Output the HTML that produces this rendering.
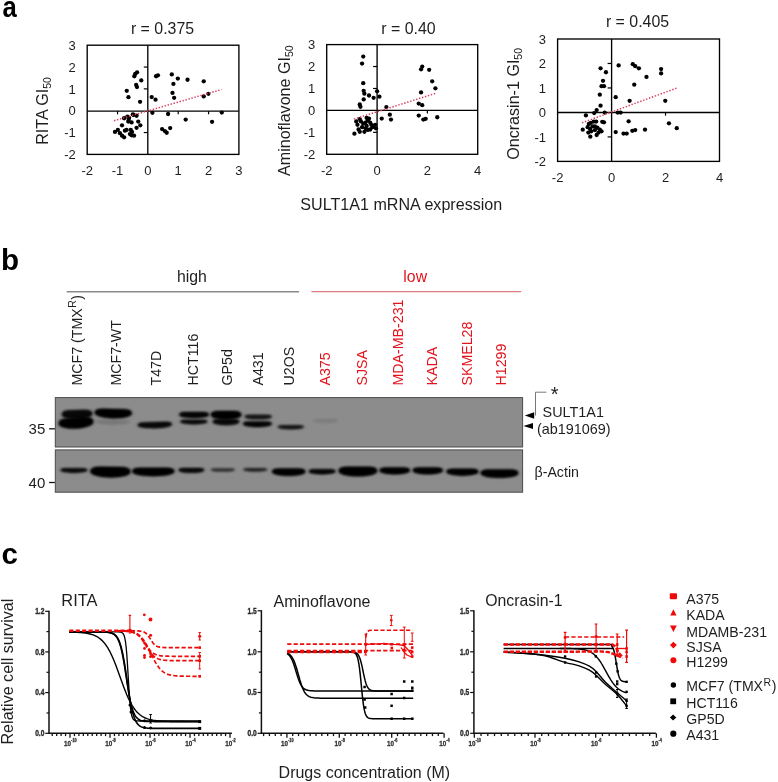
<!DOCTYPE html>
<html><head><meta charset="utf-8"><style>
html,body{margin:0;padding:0;background:#fff;overflow:hidden;}
svg{display:block;will-change:transform;}
text{font-family:"Liberation Sans", sans-serif;}
</style></head><body>
<svg width="778" height="782" viewBox="0 0 778 782">
<rect width="778" height="782" fill="#fff"/>
<defs><filter id="bl" x="-30%" y="-80%" width="160%" height="260%"><feGaussianBlur stdDeviation="1.0 0.8"/></filter><filter id="bl2" x="-30%" y="-80%" width="160%" height="260%"><feGaussianBlur stdDeviation="2.2 1.8"/></filter><filter id="soft" x="0" y="0" width="100%" height="100%" filterUnits="userSpaceOnUse"><feGaussianBlur stdDeviation="0.35"/></filter></defs>
<text transform="translate(2.6,17.0) scale(0.87,1)" font-size="29.5" font-weight="bold" fill="#000">a</text>
<rect x="87.2" y="45.2" width="151.70" height="109.20" fill="none" stroke="#000" stroke-width="1.35"/>
<line x1="147.80" y1="45.2" x2="147.80" y2="154.4" stroke="#000" stroke-width="1.35"/>
<line x1="87.2" y1="111.10" x2="238.9" y2="111.10" stroke="#000" stroke-width="1.35"/>
<line x1="143.80" y1="132.56" x2="147.80" y2="132.56" stroke="#000" stroke-width="1.2"/>
<line x1="143.80" y1="88.88" x2="147.80" y2="88.88" stroke="#000" stroke-width="1.2"/>
<line x1="143.80" y1="67.04" x2="147.80" y2="67.04" stroke="#000" stroke-width="1.2"/>
<line x1="117.54" y1="111.10" x2="117.54" y2="114.30" stroke="#000" stroke-width="1.2"/>
<line x1="178.22" y1="111.10" x2="178.22" y2="114.30" stroke="#000" stroke-width="1.2"/>
<line x1="208.56" y1="111.10" x2="208.56" y2="114.30" stroke="#000" stroke-width="1.2"/>
<text x="75.70" y="159.10" font-size="13" text-anchor="end" fill="#1e1e1e" >-2</text>
<text x="75.70" y="137.26" font-size="13" text-anchor="end" fill="#1e1e1e" >-1</text>
<text x="75.70" y="115.42" font-size="13" text-anchor="end" fill="#1e1e1e" >0</text>
<text x="75.70" y="93.58" font-size="13" text-anchor="end" fill="#1e1e1e" >1</text>
<text x="75.70" y="71.74" font-size="13" text-anchor="end" fill="#1e1e1e" >2</text>
<text x="75.70" y="49.90" font-size="13" text-anchor="end" fill="#1e1e1e" >3</text>
<text x="87.20" y="175.00" font-size="13" text-anchor="middle" fill="#1e1e1e" >-2</text>
<text x="117.54" y="175.00" font-size="13" text-anchor="middle" fill="#1e1e1e" >-1</text>
<text x="147.88" y="175.00" font-size="13" text-anchor="middle" fill="#1e1e1e" >0</text>
<text x="178.22" y="175.00" font-size="13" text-anchor="middle" fill="#1e1e1e" >1</text>
<text x="208.56" y="175.00" font-size="13" text-anchor="middle" fill="#1e1e1e" >2</text>
<text x="238.90" y="175.00" font-size="13" text-anchor="middle" fill="#1e1e1e" >3</text>
<circle cx="137.10" cy="72.34" r="2.15" fill="#000"/>
<circle cx="135.25" cy="73.96" r="2.15" fill="#000"/>
<circle cx="134.32" cy="76.27" r="2.15" fill="#000"/>
<circle cx="141.26" cy="80.44" r="2.15" fill="#000"/>
<circle cx="156.07" cy="76.27" r="2.15" fill="#000"/>
<circle cx="157.92" cy="75.35" r="2.15" fill="#000"/>
<circle cx="171.80" cy="74.42" r="2.15" fill="#000"/>
<circle cx="177.82" cy="78.59" r="2.15" fill="#000"/>
<circle cx="187.54" cy="79.75" r="2.15" fill="#000"/>
<circle cx="203.73" cy="81.37" r="2.15" fill="#000"/>
<circle cx="173.42" cy="83.91" r="2.15" fill="#000"/>
<circle cx="172.50" cy="92.93" r="2.15" fill="#000"/>
<circle cx="174.12" cy="97.79" r="2.15" fill="#000"/>
<circle cx="203.73" cy="96.40" r="2.15" fill="#000"/>
<circle cx="208.36" cy="93.86" r="2.15" fill="#000"/>
<circle cx="185.69" cy="119.54" r="2.15" fill="#000"/>
<circle cx="212.06" cy="121.86" r="2.15" fill="#000"/>
<circle cx="221.78" cy="112.60" r="2.15" fill="#000"/>
<circle cx="168.10" cy="113.99" r="2.15" fill="#000"/>
<circle cx="162.09" cy="129.03" r="2.15" fill="#000"/>
<circle cx="164.86" cy="131.11" r="2.15" fill="#000"/>
<circle cx="166.71" cy="132.73" r="2.15" fill="#000"/>
<circle cx="170.19" cy="128.10" r="2.15" fill="#000"/>
<circle cx="136.16" cy="84.99" r="2.15" fill="#000"/>
<circle cx="136.99" cy="87.07" r="2.15" fill="#000"/>
<circle cx="126.77" cy="90.81" r="2.15" fill="#000"/>
<circle cx="128.43" cy="97.21" r="2.15" fill="#000"/>
<circle cx="140.07" cy="101.86" r="2.15" fill="#000"/>
<circle cx="151.70" cy="97.04" r="2.15" fill="#000"/>
<circle cx="155.53" cy="99.70" r="2.15" fill="#000"/>
<circle cx="152.37" cy="112.83" r="2.15" fill="#000"/>
<circle cx="124.11" cy="118.24" r="2.15" fill="#000"/>
<circle cx="127.43" cy="116.58" r="2.15" fill="#000"/>
<circle cx="129.09" cy="117.82" r="2.15" fill="#000"/>
<circle cx="132.83" cy="114.50" r="2.15" fill="#000"/>
<circle cx="136.58" cy="115.74" r="2.15" fill="#000"/>
<circle cx="128.26" cy="121.56" r="2.15" fill="#000"/>
<circle cx="131.59" cy="122.39" r="2.15" fill="#000"/>
<circle cx="138.24" cy="121.56" r="2.15" fill="#000"/>
<circle cx="140.32" cy="125.30" r="2.15" fill="#000"/>
<circle cx="136.58" cy="127.80" r="2.15" fill="#000"/>
<circle cx="122.03" cy="125.30" r="2.15" fill="#000"/>
<circle cx="114.96" cy="131.95" r="2.15" fill="#000"/>
<circle cx="117.87" cy="129.88" r="2.15" fill="#000"/>
<circle cx="119.95" cy="133.20" r="2.15" fill="#000"/>
<circle cx="122.03" cy="135.69" r="2.15" fill="#000"/>
<circle cx="124.11" cy="137.36" r="2.15" fill="#000"/>
<circle cx="124.94" cy="130.71" r="2.15" fill="#000"/>
<circle cx="126.60" cy="129.88" r="2.15" fill="#000"/>
<circle cx="130.76" cy="129.88" r="2.15" fill="#000"/>
<circle cx="132.00" cy="131.95" r="2.15" fill="#000"/>
<circle cx="129.93" cy="134.03" r="2.15" fill="#000"/>
<circle cx="131.59" cy="135.28" r="2.15" fill="#000"/>
<circle cx="134.08" cy="135.69" r="2.15" fill="#000"/>
<circle cx="128.68" cy="119.90" r="2.15" fill="#000"/>
<circle cx="133.67" cy="114.91" r="2.15" fill="#000"/>
<line x1="114.00" y1="120.70" x2="221.60" y2="89.50" stroke="#d83a5a" stroke-width="1.45" stroke-dasharray="1.4 1.7"/>
<text x="162.50" y="33.80" font-size="15.9" text-anchor="middle" fill="#1e1e1e" >r = 0.375</text>
<text transform="translate(48.30,144.80) rotate(-90)" font-size="16.1" fill="#1e1e1e">RITA GI<tspan font-size="10.5" dy="3">50</tspan></text>
<rect x="326.7" y="44.6" width="151.00" height="109.70" fill="none" stroke="#000" stroke-width="1.35"/>
<line x1="377.10" y1="44.6" x2="377.10" y2="154.3" stroke="#000" stroke-width="1.35"/>
<line x1="326.7" y1="110.40" x2="477.7" y2="110.40" stroke="#000" stroke-width="1.35"/>
<line x1="373.10" y1="132.36" x2="377.10" y2="132.36" stroke="#000" stroke-width="1.2"/>
<line x1="373.10" y1="88.48" x2="377.10" y2="88.48" stroke="#000" stroke-width="1.2"/>
<line x1="373.10" y1="66.54" x2="377.10" y2="66.54" stroke="#000" stroke-width="1.2"/>
<line x1="427.37" y1="110.40" x2="427.37" y2="113.60" stroke="#000" stroke-width="1.2"/>
<text x="315.20" y="159.00" font-size="13" text-anchor="end" fill="#1e1e1e" >-2</text>
<text x="315.20" y="137.06" font-size="13" text-anchor="end" fill="#1e1e1e" >-1</text>
<text x="315.20" y="115.12" font-size="13" text-anchor="end" fill="#1e1e1e" >0</text>
<text x="315.20" y="93.18" font-size="13" text-anchor="end" fill="#1e1e1e" >1</text>
<text x="315.20" y="71.24" font-size="13" text-anchor="end" fill="#1e1e1e" >2</text>
<text x="315.20" y="49.30" font-size="13" text-anchor="end" fill="#1e1e1e" >3</text>
<text x="326.70" y="174.90" font-size="13" text-anchor="middle" fill="#1e1e1e" >-2</text>
<text x="377.03" y="174.90" font-size="13" text-anchor="middle" fill="#1e1e1e" >0</text>
<text x="427.37" y="174.90" font-size="13" text-anchor="middle" fill="#1e1e1e" >2</text>
<text x="477.70" y="174.90" font-size="13" text-anchor="middle" fill="#1e1e1e" >4</text>
<circle cx="363.22" cy="56.61" r="2.15" fill="#000"/>
<circle cx="362.06" cy="63.55" r="2.15" fill="#000"/>
<circle cx="363.22" cy="83.22" r="2.15" fill="#000"/>
<circle cx="363.68" cy="90.85" r="2.15" fill="#000"/>
<circle cx="364.37" cy="93.63" r="2.15" fill="#000"/>
<circle cx="363.68" cy="99.41" r="2.15" fill="#000"/>
<circle cx="369.00" cy="95.48" r="2.15" fill="#000"/>
<circle cx="373.63" cy="97.79" r="2.15" fill="#000"/>
<circle cx="377.10" cy="91.31" r="2.15" fill="#000"/>
<circle cx="379.41" cy="96.64" r="2.15" fill="#000"/>
<circle cx="359.75" cy="104.50" r="2.15" fill="#000"/>
<circle cx="360.44" cy="106.82" r="2.15" fill="#000"/>
<circle cx="422.22" cy="66.56" r="2.15" fill="#000"/>
<circle cx="421.06" cy="69.33" r="2.15" fill="#000"/>
<circle cx="429.16" cy="69.80" r="2.15" fill="#000"/>
<circle cx="432.17" cy="81.37" r="2.15" fill="#000"/>
<circle cx="435.40" cy="88.31" r="2.15" fill="#000"/>
<circle cx="421.06" cy="92.47" r="2.15" fill="#000"/>
<circle cx="418.75" cy="103.58" r="2.15" fill="#000"/>
<circle cx="422.22" cy="105.20" r="2.15" fill="#000"/>
<circle cx="386.35" cy="107.05" r="2.15" fill="#000"/>
<circle cx="381.73" cy="118.62" r="2.15" fill="#000"/>
<circle cx="389.82" cy="114.68" r="2.15" fill="#000"/>
<circle cx="390.98" cy="119.54" r="2.15" fill="#000"/>
<circle cx="418.75" cy="115.61" r="2.15" fill="#000"/>
<circle cx="423.37" cy="119.54" r="2.15" fill="#000"/>
<circle cx="425.69" cy="118.85" r="2.15" fill="#000"/>
<circle cx="437.26" cy="117.23" r="2.15" fill="#000"/>
<circle cx="354.42" cy="133.66" r="2.15" fill="#000"/>
<circle cx="356.27" cy="121.39" r="2.15" fill="#000"/>
<circle cx="357.43" cy="124.86" r="2.15" fill="#000"/>
<circle cx="359.75" cy="119.08" r="2.15" fill="#000"/>
<circle cx="360.90" cy="121.39" r="2.15" fill="#000"/>
<circle cx="358.59" cy="129.49" r="2.15" fill="#000"/>
<circle cx="359.75" cy="131.80" r="2.15" fill="#000"/>
<circle cx="362.06" cy="127.18" r="2.15" fill="#000"/>
<circle cx="363.22" cy="123.71" r="2.15" fill="#000"/>
<circle cx="365.53" cy="122.55" r="2.15" fill="#000"/>
<circle cx="366.69" cy="117.92" r="2.15" fill="#000"/>
<circle cx="367.84" cy="120.24" r="2.15" fill="#000"/>
<circle cx="369.00" cy="118.62" r="2.15" fill="#000"/>
<circle cx="370.16" cy="122.55" r="2.15" fill="#000"/>
<circle cx="371.31" cy="124.86" r="2.15" fill="#000"/>
<circle cx="372.47" cy="127.18" r="2.15" fill="#000"/>
<circle cx="373.63" cy="126.02" r="2.15" fill="#000"/>
<circle cx="365.53" cy="128.33" r="2.15" fill="#000"/>
<circle cx="364.37" cy="131.80" r="2.15" fill="#000"/>
<circle cx="367.84" cy="129.95" r="2.15" fill="#000"/>
<circle cx="370.16" cy="129.49" r="2.15" fill="#000"/>
<circle cx="366.69" cy="126.02" r="2.15" fill="#000"/>
<circle cx="375.94" cy="128.33" r="2.15" fill="#000"/>
<circle cx="375.25" cy="124.86" r="2.15" fill="#000"/>
<line x1="353.96" y1="119.08" x2="436.10" y2="93.17" stroke="#d83a5a" stroke-width="1.45" stroke-dasharray="1.4 1.7"/>
<text x="408.50" y="34.40" font-size="15.9" text-anchor="middle" fill="#1e1e1e" >r = 0.40</text>
<text transform="translate(289.80,176.00) rotate(-90)" font-size="16.1" fill="#1e1e1e">Aminoflavone GI<tspan font-size="10.5" dy="3">50</tspan></text>
<rect x="557.6" y="39" width="161.90" height="122.40" fill="none" stroke="#000" stroke-width="1.35"/>
<line x1="611.60" y1="39" x2="611.60" y2="161.4" stroke="#000" stroke-width="1.35"/>
<line x1="557.6" y1="112.50" x2="719.5" y2="112.50" stroke="#000" stroke-width="1.35"/>
<line x1="607.60" y1="136.92" x2="611.60" y2="136.92" stroke="#000" stroke-width="1.2"/>
<line x1="607.60" y1="87.96" x2="611.60" y2="87.96" stroke="#000" stroke-width="1.2"/>
<line x1="607.60" y1="63.48" x2="611.60" y2="63.48" stroke="#000" stroke-width="1.2"/>
<line x1="665.53" y1="112.50" x2="665.53" y2="115.70" stroke="#000" stroke-width="1.2"/>
<text x="546.10" y="166.10" font-size="13" text-anchor="end" fill="#1e1e1e" >-2</text>
<text x="546.10" y="141.62" font-size="13" text-anchor="end" fill="#1e1e1e" >-1</text>
<text x="546.10" y="117.14" font-size="13" text-anchor="end" fill="#1e1e1e" >0</text>
<text x="546.10" y="92.66" font-size="13" text-anchor="end" fill="#1e1e1e" >1</text>
<text x="546.10" y="68.18" font-size="13" text-anchor="end" fill="#1e1e1e" >2</text>
<text x="546.10" y="43.70" font-size="13" text-anchor="end" fill="#1e1e1e" >3</text>
<text x="557.60" y="182.00" font-size="13" text-anchor="middle" fill="#1e1e1e" >-2</text>
<text x="611.57" y="182.00" font-size="13" text-anchor="middle" fill="#1e1e1e" >0</text>
<text x="665.53" y="182.00" font-size="13" text-anchor="middle" fill="#1e1e1e" >2</text>
<text x="719.50" y="182.00" font-size="13" text-anchor="middle" fill="#1e1e1e" >4</text>
<circle cx="600.56" cy="68.34" r="2.15" fill="#000"/>
<circle cx="605.93" cy="72.25" r="2.15" fill="#000"/>
<circle cx="603.00" cy="80.79" r="2.15" fill="#000"/>
<circle cx="601.54" cy="86.17" r="2.15" fill="#000"/>
<circle cx="603.98" cy="86.17" r="2.15" fill="#000"/>
<circle cx="599.83" cy="94.71" r="2.15" fill="#000"/>
<circle cx="600.56" cy="105.70" r="2.15" fill="#000"/>
<circle cx="596.65" cy="110.10" r="2.15" fill="#000"/>
<circle cx="594.21" cy="113.03" r="2.15" fill="#000"/>
<circle cx="604.71" cy="112.54" r="2.15" fill="#000"/>
<circle cx="618.63" cy="65.41" r="2.15" fill="#000"/>
<circle cx="632.80" cy="64.19" r="2.15" fill="#000"/>
<circle cx="635.24" cy="66.14" r="2.15" fill="#000"/>
<circle cx="638.90" cy="68.34" r="2.15" fill="#000"/>
<circle cx="661.12" cy="69.07" r="2.15" fill="#000"/>
<circle cx="661.12" cy="73.47" r="2.15" fill="#000"/>
<circle cx="646.47" cy="76.89" r="2.15" fill="#000"/>
<circle cx="634.26" cy="84.70" r="2.15" fill="#000"/>
<circle cx="615.70" cy="97.16" r="2.15" fill="#000"/>
<circle cx="629.62" cy="100.82" r="2.15" fill="#000"/>
<circle cx="665.27" cy="100.82" r="2.15" fill="#000"/>
<circle cx="617.66" cy="112.54" r="2.15" fill="#000"/>
<circle cx="620.59" cy="112.54" r="2.15" fill="#000"/>
<circle cx="628.64" cy="121.33" r="2.15" fill="#000"/>
<circle cx="615.70" cy="132.08" r="2.15" fill="#000"/>
<circle cx="623.52" cy="133.54" r="2.15" fill="#000"/>
<circle cx="626.69" cy="133.54" r="2.15" fill="#000"/>
<circle cx="632.31" cy="130.85" r="2.15" fill="#000"/>
<circle cx="635.24" cy="130.12" r="2.15" fill="#000"/>
<circle cx="645.01" cy="129.63" r="2.15" fill="#000"/>
<circle cx="668.94" cy="123.28" r="2.15" fill="#000"/>
<circle cx="676.75" cy="128.17" r="2.15" fill="#000"/>
<circle cx="585.91" cy="115.47" r="2.15" fill="#000"/>
<circle cx="582.74" cy="129.63" r="2.15" fill="#000"/>
<circle cx="588.84" cy="124.02" r="2.15" fill="#000"/>
<circle cx="590.79" cy="122.80" r="2.15" fill="#000"/>
<circle cx="593.72" cy="121.58" r="2.15" fill="#000"/>
<circle cx="596.17" cy="121.58" r="2.15" fill="#000"/>
<circle cx="603.98" cy="122.31" r="2.15" fill="#000"/>
<circle cx="602.27" cy="121.82" r="2.15" fill="#000"/>
<circle cx="587.62" cy="127.19" r="2.15" fill="#000"/>
<circle cx="590.06" cy="128.90" r="2.15" fill="#000"/>
<circle cx="592.50" cy="126.46" r="2.15" fill="#000"/>
<circle cx="594.95" cy="126.46" r="2.15" fill="#000"/>
<circle cx="597.39" cy="127.68" r="2.15" fill="#000"/>
<circle cx="599.83" cy="129.63" r="2.15" fill="#000"/>
<circle cx="601.54" cy="131.34" r="2.15" fill="#000"/>
<circle cx="590.31" cy="136.72" r="2.15" fill="#000"/>
<circle cx="596.65" cy="135.01" r="2.15" fill="#000"/>
<circle cx="598.61" cy="132.56" r="2.15" fill="#000"/>
<circle cx="594.95" cy="130.12" r="2.15" fill="#000"/>
<circle cx="591.28" cy="131.34" r="2.15" fill="#000"/>
<circle cx="588.35" cy="132.56" r="2.15" fill="#000"/>
<line x1="582.00" y1="122.80" x2="677.97" y2="87.63" stroke="#d83a5a" stroke-width="1.45" stroke-dasharray="1.4 1.7"/>
<text x="637.50" y="27.10" font-size="15.9" text-anchor="middle" fill="#1e1e1e" >r = 0.405</text>
<text transform="translate(519.00,159.80) rotate(-90)" font-size="16.1" fill="#1e1e1e">Oncrasin-1 GI<tspan font-size="10.5" dy="3">50</tspan></text>
<text x="401.30" y="210.30" font-size="16.1" text-anchor="middle" fill="#1e1e1e" >SULT1A1 mRNA expression</text>
<text x="1.00" y="269.80" font-size="29.5" text-anchor="start" fill="#000" font-weight="bold">b</text>
<line x1="66.7" y1="291.8" x2="299.1" y2="291.8" stroke="#8a8a8a" stroke-width="1.4"/>
<line x1="311.4" y1="291.6" x2="521.2" y2="291.6" stroke="#dc7a7e" stroke-width="1.4"/>
<text x="191.90" y="281.80" font-size="15.8" text-anchor="middle" fill="#1e1e1e" >high</text>
<text x="415.20" y="281.90" font-size="15.8" text-anchor="middle" fill="#e3141e" >low</text>
<text transform="translate(81.70,385.5) rotate(-90)" font-size="14.2" fill="#1e1e1e">MCF7 (TMX<tspan font-size="10.5" dx="0.5" dy="-5.5">R</tspan><tspan dx="0.5" dy="5.5">)</tspan></text>
<text transform="translate(120.50,385.5) rotate(-90)" font-size="14.2" fill="#1e1e1e">MCF7-WT</text>
<text transform="translate(160.90,385.5) rotate(-90)" font-size="14.2" fill="#1e1e1e">T47D</text>
<text transform="translate(197.50,385.5) rotate(-90)" font-size="14.2" fill="#1e1e1e">HCT116</text>
<text transform="translate(232.20,385.5) rotate(-90)" font-size="14.2" fill="#1e1e1e">GP5d</text>
<text transform="translate(262.70,385.5) rotate(-90)" font-size="14.2" fill="#1e1e1e">A431</text>
<text transform="translate(294.20,385.5) rotate(-90)" font-size="14.2" fill="#1e1e1e">U2OS</text>
<text transform="translate(329.70,385.5) rotate(-90)" font-size="14.2" fill="#e3141e">A375</text>
<text transform="translate(367.20,385.5) rotate(-90)" font-size="14.2" fill="#e3141e">SJSA</text>
<text transform="translate(402.90,385.5) rotate(-90)" font-size="14.2" fill="#e3141e">MDA-MB-231</text>
<text transform="translate(436.90,385.5) rotate(-90)" font-size="14.2" fill="#e3141e">KADA</text>
<text transform="translate(472.20,385.5) rotate(-90)" font-size="14.2" fill="#e3141e">SKMEL28</text>
<text transform="translate(505.70,385.5) rotate(-90)" font-size="14.2" fill="#e3141e">H1299</text>
<rect x="55.3" y="397.6" width="467.3" height="49.4" fill="#8c8c8c" stroke="#4a4a4a" stroke-width="1"/>
<rect x="55.3" y="449.9" width="467.3" height="42.3" fill="#8c8c8c" stroke="#4a4a4a" stroke-width="1"/>
<path d="M61.80,414.46 Q61.80,410.46 69.79,410.30 L84.41,409.66 Q92.40,409.66 92.40,413.66 C92.40,420.17 61.80,420.97 61.80,414.46 Z" fill="#050505" opacity="0.405" filter="url(#bl2)"/>
<path d="M61.80,414.46 Q61.80,410.46 69.79,410.30 L84.41,409.66 Q92.40,409.66 92.40,413.66 C92.40,420.17 61.80,420.97 61.80,414.46 Z" fill="#050505" opacity="0.9" filter="url(#bl)"/>
<path d="M58.70,423.47 Q58.70,418.66 68.31,418.30 L83.79,416.86 Q93.40,416.86 93.40,421.67 C93.40,429.50 58.70,431.30 58.70,423.47 Z" fill="#050505" opacity="0.450" filter="url(#bl2)"/>
<path d="M58.70,423.47 Q58.70,418.66 68.31,418.30 L83.79,416.86 Q93.40,416.86 93.40,421.67 C93.40,429.50 58.70,431.30 58.70,423.47 Z" fill="#050505" opacity="1.0" filter="url(#bl)"/>
<path d="M94.70,412.69 Q94.70,408.56 102.96,408.72 L123.54,409.36 Q131.80,409.36 131.80,413.49 C131.80,420.22 94.70,419.42 94.70,412.69 Z" fill="#050505" opacity="0.450" filter="url(#bl2)"/>
<path d="M94.70,412.69 Q94.70,408.56 102.96,408.72 L123.54,409.36 Q131.80,409.36 131.80,413.49 C131.80,420.22 94.70,419.42 94.70,412.69 Z" fill="#050505" opacity="1.0" filter="url(#bl)"/>
<path d="M96.10,422.12 Q96.10,420.06 100.22,420.06 L125.78,420.06 Q129.90,420.06 129.90,422.12 C129.90,425.48 96.10,425.48 96.10,422.12 Z" fill="#050505" opacity="0.045" filter="url(#bl2)"/>
<path d="M96.10,422.12 Q96.10,420.06 100.22,420.06 L125.78,420.06 Q129.90,420.06 129.90,422.12 C129.90,425.48 96.10,425.48 96.10,422.12 Z" fill="#050505" opacity="0.1" filter="url(#bl)"/>
<path d="M137.70,425.25 Q137.70,422.56 143.08,422.40 L166.52,421.76 Q171.90,421.76 171.90,424.45 C171.90,428.84 137.70,429.64 137.70,425.25 Z" fill="#050505" opacity="0.405" filter="url(#bl2)"/>
<path d="M137.70,425.25 Q137.70,422.56 143.08,422.40 L166.52,421.76 Q171.90,421.76 171.90,424.45 C171.90,428.84 137.70,429.64 137.70,425.25 Z" fill="#050505" opacity="0.9" filter="url(#bl)"/>
<path d="M179.30,414.65 Q179.30,411.96 184.68,411.96 L203.52,411.96 Q208.90,411.96 208.90,414.65 C208.90,419.04 179.30,419.04 179.30,414.65 Z" fill="#050505" opacity="0.427" filter="url(#bl2)"/>
<path d="M179.30,414.65 Q179.30,411.96 184.68,411.96 L203.52,411.96 Q208.90,411.96 208.90,414.65 C208.90,419.04 179.30,419.04 179.30,414.65 Z" fill="#050505" opacity="0.95" filter="url(#bl)"/>
<path d="M180.30,421.68 Q180.30,419.66 184.33,419.66 L203.37,419.66 Q207.40,419.66 207.40,421.68 C207.40,424.96 180.30,424.96 180.30,421.68 Z" fill="#050505" opacity="0.405" filter="url(#bl2)"/>
<path d="M180.30,421.68 Q180.30,419.66 184.33,419.66 L203.37,419.66 Q207.40,419.66 207.40,421.68 C207.40,424.96 180.30,424.96 180.30,421.68 Z" fill="#050505" opacity="0.9" filter="url(#bl)"/>
<path d="M210.80,414.82 Q210.80,410.96 218.52,410.96 L233.68,410.96 Q241.40,410.96 241.40,414.82 C241.40,421.11 210.80,421.11 210.80,414.82 Z" fill="#050505" opacity="0.450" filter="url(#bl2)"/>
<path d="M210.80,414.82 Q210.80,410.96 218.52,410.96 L233.68,410.96 Q241.40,410.96 241.40,414.82 C241.40,421.11 210.80,421.11 210.80,414.82 Z" fill="#050505" opacity="1.0" filter="url(#bl)"/>
<path d="M212.80,421.80 Q212.80,419.06 218.27,419.06 L233.83,419.06 Q239.30,419.06 239.30,421.80 C239.30,426.25 212.80,426.25 212.80,421.80 Z" fill="#050505" opacity="0.405" filter="url(#bl2)"/>
<path d="M212.80,421.80 Q212.80,419.06 218.27,419.06 L233.83,419.06 Q239.30,419.06 239.30,421.80 C239.30,426.25 212.80,426.25 212.80,421.80 Z" fill="#050505" opacity="0.9" filter="url(#bl)"/>
<path d="M244.70,416.88 Q244.70,414.86 248.73,414.86 L267.67,414.86 Q271.70,414.86 271.70,416.88 C271.70,420.16 244.70,420.16 244.70,416.88 Z" fill="#050505" opacity="0.351" filter="url(#bl2)"/>
<path d="M244.70,416.88 Q244.70,414.86 248.73,414.86 L267.67,414.86 Q271.70,414.86 271.70,416.88 C271.70,420.16 244.70,420.16 244.70,416.88 Z" fill="#050505" opacity="0.78" filter="url(#bl)"/>
<path d="M243.10,423.93 Q243.10,421.46 248.03,421.46 L266.77,421.46 Q271.70,421.46 271.70,423.93 C271.70,427.94 243.10,427.94 243.10,423.93 Z" fill="#050505" opacity="0.427" filter="url(#bl2)"/>
<path d="M243.10,423.93 Q243.10,421.46 248.03,421.46 L266.77,421.46 Q271.70,421.46 271.70,423.93 C271.70,427.94 243.10,427.94 243.10,423.93 Z" fill="#050505" opacity="0.95" filter="url(#bl)"/>
<path d="M277.80,427.10 Q277.80,425.26 281.47,425.26 L300.13,425.26 Q303.80,425.26 303.80,427.10 C303.80,430.09 277.80,430.09 277.80,427.10 Z" fill="#050505" opacity="0.360" filter="url(#bl2)"/>
<path d="M277.80,427.10 Q277.80,425.26 281.47,425.26 L300.13,425.26 Q303.80,425.26 303.80,427.10 C303.80,430.09 277.80,430.09 277.80,427.10 Z" fill="#050505" opacity="0.8" filter="url(#bl)"/>
<path d="M313.30,420.68 Q313.30,418.66 317.33,418.66 L333.77,418.66 Q337.80,418.66 337.80,420.68 C337.80,423.96 313.30,423.96 313.30,420.68 Z" fill="#050505" opacity="0.032" filter="url(#bl2)"/>
<path d="M313.30,420.68 Q313.30,418.66 317.33,418.66 L333.77,418.66 Q337.80,418.66 337.80,420.68 C337.80,423.96 313.30,423.96 313.30,420.68 Z" fill="#050505" opacity="0.07" filter="url(#bl)"/>
<path d="M60.50,470.28 Q60.50,468.26 64.53,468.26 L83.27,468.26 Q87.30,468.26 87.30,470.28 C87.30,473.56 60.50,473.56 60.50,470.28 Z" fill="#050505" opacity="0.405" filter="url(#bl2)"/>
<path d="M60.50,470.28 Q60.50,468.26 64.53,468.26 L83.27,468.26 Q87.30,468.26 87.30,470.28 C87.30,473.56 60.50,473.56 60.50,470.28 Z" fill="#050505" opacity="0.9" filter="url(#bl)"/>
<path d="M90.30,471.37 Q90.30,466.56 99.91,466.66 L120.89,467.06 Q130.50,467.06 130.50,471.87 C130.50,479.70 90.30,479.20 90.30,471.37 Z" fill="#050505" opacity="0.450" filter="url(#bl2)"/>
<path d="M90.30,471.37 Q90.30,466.56 99.91,466.66 L120.89,467.06 Q130.50,467.06 130.50,471.87 C130.50,479.70 90.30,479.20 90.30,471.37 Z" fill="#050505" opacity="1.0" filter="url(#bl)"/>
<path d="M132.20,471.53 Q132.20,467.76 139.74,467.76 L166.86,467.76 Q174.40,467.76 174.40,471.53 C174.40,477.68 132.20,477.68 132.20,471.53 Z" fill="#050505" opacity="0.450" filter="url(#bl2)"/>
<path d="M132.20,471.53 Q132.20,467.76 139.74,467.76 L166.86,467.76 Q174.40,467.76 174.40,471.53 C174.40,477.68 132.20,477.68 132.20,471.53 Z" fill="#050505" opacity="1.0" filter="url(#bl)"/>
<path d="M178.60,470.17 Q178.60,468.06 182.81,468.06 L199.89,468.06 Q204.10,468.06 204.10,470.17 C204.10,473.60 178.60,473.60 178.60,470.17 Z" fill="#050505" opacity="0.405" filter="url(#bl2)"/>
<path d="M178.60,470.17 Q178.60,468.06 182.81,468.06 L199.89,468.06 Q204.10,468.06 204.10,470.17 C204.10,473.60 178.60,473.60 178.60,470.17 Z" fill="#050505" opacity="0.9" filter="url(#bl)"/>
<path d="M211.00,469.90 Q211.00,468.56 213.68,468.56 L232.02,468.56 Q234.70,468.56 234.70,469.90 C234.70,472.09 211.00,472.09 211.00,469.90 Z" fill="#050505" opacity="0.270" filter="url(#bl2)"/>
<path d="M211.00,469.90 Q211.00,468.56 213.68,468.56 L232.02,468.56 Q234.70,468.56 234.70,469.90 C234.70,472.09 211.00,472.09 211.00,469.90 Z" fill="#050505" opacity="0.6" filter="url(#bl)"/>
<path d="M243.40,469.74 Q243.40,468.26 246.35,468.26 L264.15,468.26 Q267.10,468.26 267.10,469.74 C267.10,472.14 243.40,472.14 243.40,469.74 Z" fill="#050505" opacity="0.315" filter="url(#bl2)"/>
<path d="M243.40,469.74 Q243.40,468.26 246.35,468.26 L264.15,468.26 Q267.10,468.26 267.10,469.74 C267.10,472.14 243.40,472.14 243.40,469.74 Z" fill="#050505" opacity="0.7" filter="url(#bl)"/>
<path d="M272.10,471.78 Q272.10,468.46 278.74,468.46 L298.66,468.46 Q305.30,468.46 305.30,471.78 C305.30,477.19 272.10,477.19 272.10,471.78 Z" fill="#050505" opacity="0.450" filter="url(#bl2)"/>
<path d="M272.10,471.78 Q272.10,468.46 278.74,468.46 L298.66,468.46 Q305.30,468.46 305.30,471.78 C305.30,477.19 272.10,477.19 272.10,471.78 Z" fill="#050505" opacity="1.0" filter="url(#bl)"/>
<path d="M308.90,471.46 Q308.90,469.26 313.29,469.26 L331.01,469.26 Q335.40,469.26 335.40,471.46 C335.40,475.03 308.90,475.03 308.90,471.46 Z" fill="#050505" opacity="0.427" filter="url(#bl2)"/>
<path d="M308.90,471.46 Q308.90,469.26 313.29,469.26 L331.01,469.26 Q335.40,469.26 335.40,471.46 C335.40,475.03 308.90,475.03 308.90,471.46 Z" fill="#050505" opacity="0.95" filter="url(#bl)"/>
<path d="M338.60,471.07 Q338.60,466.76 347.22,466.76 L368.58,466.76 Q377.20,466.76 377.20,471.07 C377.20,478.10 338.60,478.10 338.60,471.07 Z" fill="#050505" opacity="0.450" filter="url(#bl2)"/>
<path d="M338.60,471.07 Q338.60,466.76 347.22,466.76 L368.58,466.76 Q377.20,466.76 377.20,471.07 C377.20,478.10 338.60,478.10 338.60,471.07 Z" fill="#050505" opacity="1.0" filter="url(#bl)"/>
<path d="M379.50,470.51 Q379.50,467.46 385.60,467.46 L403.80,467.46 Q409.90,467.46 409.90,470.51 C409.90,475.48 379.50,475.48 379.50,470.51 Z" fill="#050505" opacity="0.450" filter="url(#bl2)"/>
<path d="M379.50,470.51 Q379.50,467.46 385.60,467.46 L403.80,467.46 Q409.90,467.46 409.90,470.51 C409.90,475.48 379.50,475.48 379.50,470.51 Z" fill="#050505" opacity="1.0" filter="url(#bl)"/>
<path d="M412.70,470.51 Q412.70,467.46 418.80,467.46 L436.70,467.46 Q442.80,467.46 442.80,470.51 C442.80,475.48 412.70,475.48 412.70,470.51 Z" fill="#050505" opacity="0.450" filter="url(#bl2)"/>
<path d="M412.70,470.51 Q412.70,467.46 418.80,467.46 L436.70,467.46 Q442.80,467.46 442.80,470.51 C442.80,475.48 412.70,475.48 412.70,470.51 Z" fill="#050505" opacity="1.0" filter="url(#bl)"/>
<path d="M446.50,471.86 Q446.50,468.76 452.69,468.76 L472.21,468.76 Q478.40,468.76 478.40,471.86 C478.40,476.90 446.50,476.90 446.50,471.86 Z" fill="#050505" opacity="0.450" filter="url(#bl2)"/>
<path d="M446.50,471.86 Q446.50,468.76 452.69,468.76 L472.21,468.76 Q478.40,468.76 478.40,471.86 C478.40,476.90 446.50,476.90 446.50,471.86 Z" fill="#050505" opacity="1.0" filter="url(#bl)"/>
<path d="M480.70,473.19 Q480.70,469.46 488.15,469.46 L510.85,469.46 Q518.30,469.46 518.30,473.19 C518.30,479.26 480.70,479.26 480.70,473.19 Z" fill="#050505" opacity="0.450" filter="url(#bl2)"/>
<path d="M480.70,473.19 Q480.70,469.46 488.15,469.46 L510.85,469.46 Q518.30,469.46 518.30,473.19 C518.30,479.26 480.70,479.26 480.70,473.19 Z" fill="#050505" opacity="1.0" filter="url(#bl)"/>
<line x1="49.1" y1="428.8" x2="54.8" y2="428.8" stroke="#111" stroke-width="1.3"/>
<line x1="49.1" y1="482.5" x2="54.8" y2="482.5" stroke="#111" stroke-width="1.3"/>
<text x="45.30" y="434.30" font-size="15" text-anchor="end" fill="#1e1e1e" >35</text>
<text x="45.30" y="488.10" font-size="15" text-anchor="end" fill="#1e1e1e" >40</text>
<path d="M524.8,415.5 L534.2,412.2 L534.2,418.8 Z" fill="#000"/>
<path d="M523.4,426 L533,423 L533,429 Z" fill="#000"/>
<path d="M535.5,415.5 L535.5,392.2 L546.4,392.2" fill="none" stroke="#777" stroke-width="1"/>
<text x="550.80" y="401.30" font-size="20" text-anchor="start" fill="#1e1e1e" >*</text>
<text x="542.60" y="417.40" font-size="14.4" text-anchor="start" fill="#1e1e1e" >SULT1A1</text>
<text x="537.00" y="434.00" font-size="14.4" text-anchor="start" fill="#1e1e1e" >(ab191069)</text>
<text x="534.50" y="477.30" font-size="14.2" text-anchor="start" fill="#1e1e1e" >β-Actin</text>
<text x="1.60" y="563.60" font-size="29.5" text-anchor="start" fill="#000" font-weight="bold">c</text>
<text transform="translate(13,744.5) rotate(-90)" font-size="16.1" fill="#1e1e1e">Relative cell survival</text>
<text x="364.40" y="778.20" font-size="16" text-anchor="middle" fill="#1e1e1e" >Drugs concentration (M)</text>
<text x="61.30" y="606.40" font-size="16.4" text-anchor="start" fill="#1e1e1e" >RITA</text>
<text x="273.50" y="607.10" font-size="16" text-anchor="start" fill="#1e1e1e" >Aminoflavone</text>
<text x="485.30" y="606.20" font-size="15.8" text-anchor="start" fill="#1e1e1e" >Oncrasin-1</text>
<line x1="49.0" y1="610.6999999999999" x2="49.0" y2="733.3" stroke="#111" stroke-width="1.5"/>
<line x1="48.3" y1="733.3" x2="231.9" y2="733.3" stroke="#111" stroke-width="1.5"/>
<line x1="45.2" y1="733.3" x2="49.0" y2="733.3" stroke="#111" stroke-width="1.2"/>
<text transform="translate(44.40,736.00) scale(0.8,1)" font-size="8.3" font-weight="bold" text-anchor="end" fill="#2a2a2a" stroke="#2a2a2a" stroke-width="0.35">0.0</text>
<line x1="45.2" y1="692.6" x2="49.0" y2="692.6" stroke="#111" stroke-width="1.2"/>
<text transform="translate(44.40,695.30) scale(0.8,1)" font-size="8.3" font-weight="bold" text-anchor="end" fill="#2a2a2a" stroke="#2a2a2a" stroke-width="0.35">0.4</text>
<line x1="45.2" y1="651.9" x2="49.0" y2="651.9" stroke="#111" stroke-width="1.2"/>
<text transform="translate(44.40,654.60) scale(0.8,1)" font-size="8.3" font-weight="bold" text-anchor="end" fill="#2a2a2a" stroke="#2a2a2a" stroke-width="0.35">0.8</text>
<line x1="45.2" y1="611.3" x2="49.0" y2="611.3" stroke="#111" stroke-width="1.2"/>
<text transform="translate(44.40,614.00) scale(0.8,1)" font-size="8.3" font-weight="bold" text-anchor="end" fill="#2a2a2a" stroke="#2a2a2a" stroke-width="0.35">1.2</text>
<line x1="46.5" y1="713.0" x2="49.0" y2="713.0" stroke="#111" stroke-width="1.2"/>
<line x1="46.5" y1="672.3" x2="49.0" y2="672.3" stroke="#111" stroke-width="1.2"/>
<line x1="46.5" y1="631.6" x2="49.0" y2="631.6" stroke="#111" stroke-width="1.2"/>
<line x1="52.22" y1="733.3" x2="52.22" y2="736.0999999999999" stroke="#111" stroke-width="1.3"/>
<line x1="56.67" y1="733.3" x2="56.67" y2="736.0999999999999" stroke="#111" stroke-width="1.3"/>
<line x1="61.11" y1="733.3" x2="61.11" y2="736.0999999999999" stroke="#111" stroke-width="1.3"/>
<line x1="65.56" y1="733.3" x2="65.56" y2="736.0999999999999" stroke="#111" stroke-width="1.3"/>
<line x1="70.00" y1="733.3" x2="70.00" y2="737.6999999999999" stroke="#111" stroke-width="1.3"/>
<line x1="74.44" y1="733.3" x2="74.44" y2="736.0999999999999" stroke="#111" stroke-width="1.3"/>
<line x1="78.89" y1="733.3" x2="78.89" y2="736.0999999999999" stroke="#111" stroke-width="1.3"/>
<line x1="83.33" y1="733.3" x2="83.33" y2="736.0999999999999" stroke="#111" stroke-width="1.3"/>
<line x1="87.78" y1="733.3" x2="87.78" y2="736.0999999999999" stroke="#111" stroke-width="1.3"/>
<line x1="92.22" y1="733.3" x2="92.22" y2="736.0999999999999" stroke="#111" stroke-width="1.3"/>
<line x1="96.67" y1="733.3" x2="96.67" y2="736.0999999999999" stroke="#111" stroke-width="1.3"/>
<line x1="101.11" y1="733.3" x2="101.11" y2="736.0999999999999" stroke="#111" stroke-width="1.3"/>
<line x1="105.56" y1="733.3" x2="105.56" y2="736.0999999999999" stroke="#111" stroke-width="1.3"/>
<line x1="110.00" y1="733.3" x2="110.00" y2="737.6999999999999" stroke="#111" stroke-width="1.3"/>
<line x1="114.44" y1="733.3" x2="114.44" y2="736.0999999999999" stroke="#111" stroke-width="1.3"/>
<line x1="118.89" y1="733.3" x2="118.89" y2="736.0999999999999" stroke="#111" stroke-width="1.3"/>
<line x1="123.33" y1="733.3" x2="123.33" y2="736.0999999999999" stroke="#111" stroke-width="1.3"/>
<line x1="127.78" y1="733.3" x2="127.78" y2="736.0999999999999" stroke="#111" stroke-width="1.3"/>
<line x1="132.22" y1="733.3" x2="132.22" y2="736.0999999999999" stroke="#111" stroke-width="1.3"/>
<line x1="136.67" y1="733.3" x2="136.67" y2="736.0999999999999" stroke="#111" stroke-width="1.3"/>
<line x1="141.11" y1="733.3" x2="141.11" y2="736.0999999999999" stroke="#111" stroke-width="1.3"/>
<line x1="145.56" y1="733.3" x2="145.56" y2="736.0999999999999" stroke="#111" stroke-width="1.3"/>
<line x1="150.00" y1="733.3" x2="150.00" y2="737.6999999999999" stroke="#111" stroke-width="1.3"/>
<line x1="154.44" y1="733.3" x2="154.44" y2="736.0999999999999" stroke="#111" stroke-width="1.3"/>
<line x1="158.89" y1="733.3" x2="158.89" y2="736.0999999999999" stroke="#111" stroke-width="1.3"/>
<line x1="163.33" y1="733.3" x2="163.33" y2="736.0999999999999" stroke="#111" stroke-width="1.3"/>
<line x1="167.78" y1="733.3" x2="167.78" y2="736.0999999999999" stroke="#111" stroke-width="1.3"/>
<line x1="172.22" y1="733.3" x2="172.22" y2="736.0999999999999" stroke="#111" stroke-width="1.3"/>
<line x1="176.67" y1="733.3" x2="176.67" y2="736.0999999999999" stroke="#111" stroke-width="1.3"/>
<line x1="181.11" y1="733.3" x2="181.11" y2="736.0999999999999" stroke="#111" stroke-width="1.3"/>
<line x1="185.56" y1="733.3" x2="185.56" y2="736.0999999999999" stroke="#111" stroke-width="1.3"/>
<line x1="190.00" y1="733.3" x2="190.00" y2="737.6999999999999" stroke="#111" stroke-width="1.3"/>
<line x1="194.44" y1="733.3" x2="194.44" y2="736.0999999999999" stroke="#111" stroke-width="1.3"/>
<line x1="198.89" y1="733.3" x2="198.89" y2="736.0999999999999" stroke="#111" stroke-width="1.3"/>
<line x1="203.33" y1="733.3" x2="203.33" y2="736.0999999999999" stroke="#111" stroke-width="1.3"/>
<line x1="207.78" y1="733.3" x2="207.78" y2="736.0999999999999" stroke="#111" stroke-width="1.3"/>
<line x1="212.22" y1="733.3" x2="212.22" y2="736.0999999999999" stroke="#111" stroke-width="1.3"/>
<line x1="216.67" y1="733.3" x2="216.67" y2="736.0999999999999" stroke="#111" stroke-width="1.3"/>
<line x1="221.11" y1="733.3" x2="221.11" y2="736.0999999999999" stroke="#111" stroke-width="1.3"/>
<line x1="225.56" y1="733.3" x2="225.56" y2="736.0999999999999" stroke="#111" stroke-width="1.3"/>
<line x1="230.00" y1="733.3" x2="230.00" y2="737.6999999999999" stroke="#111" stroke-width="1.3"/>
<text transform="translate(70.40,745.70) scale(0.84,1)" font-size="7.5" font-weight="bold" text-anchor="middle" fill="#333" stroke="#333" stroke-width="0.3">10<tspan font-size="4.6" dy="-3.6">-10</tspan></text>
<text transform="translate(110.40,745.70) scale(0.84,1)" font-size="7.5" font-weight="bold" text-anchor="middle" fill="#333" stroke="#333" stroke-width="0.3">10<tspan font-size="4.6" dy="-3.6">-8</tspan></text>
<text transform="translate(150.40,745.70) scale(0.84,1)" font-size="7.5" font-weight="bold" text-anchor="middle" fill="#333" stroke="#333" stroke-width="0.3">10<tspan font-size="4.6" dy="-3.6">-6</tspan></text>
<text transform="translate(190.40,745.70) scale(0.84,1)" font-size="7.5" font-weight="bold" text-anchor="middle" fill="#333" stroke="#333" stroke-width="0.3">10<tspan font-size="4.6" dy="-3.6">-4</tspan></text>
<text transform="translate(230.40,745.70) scale(0.84,1)" font-size="7.5" font-weight="bold" text-anchor="middle" fill="#333" stroke="#333" stroke-width="0.3">10<tspan font-size="4.6" dy="-3.6">-2</tspan></text>
<line x1="261.4" y1="610.1999999999999" x2="261.4" y2="733.3" stroke="#111" stroke-width="1.5"/>
<line x1="260.7" y1="733.3" x2="443.6" y2="733.3" stroke="#111" stroke-width="1.5"/>
<line x1="257.59999999999997" y1="733.3" x2="261.4" y2="733.3" stroke="#111" stroke-width="1.2"/>
<text transform="translate(256.80,736.00) scale(0.8,1)" font-size="8.3" font-weight="bold" text-anchor="end" fill="#2a2a2a" stroke="#2a2a2a" stroke-width="0.35">0.0</text>
<line x1="257.59999999999997" y1="692.5" x2="261.4" y2="692.5" stroke="#111" stroke-width="1.2"/>
<text transform="translate(256.80,695.20) scale(0.8,1)" font-size="8.3" font-weight="bold" text-anchor="end" fill="#2a2a2a" stroke="#2a2a2a" stroke-width="0.35">0.5</text>
<line x1="257.59999999999997" y1="651.8" x2="261.4" y2="651.8" stroke="#111" stroke-width="1.2"/>
<text transform="translate(256.80,654.50) scale(0.8,1)" font-size="8.3" font-weight="bold" text-anchor="end" fill="#2a2a2a" stroke="#2a2a2a" stroke-width="0.35">1.0</text>
<line x1="257.59999999999997" y1="610.8" x2="261.4" y2="610.8" stroke="#111" stroke-width="1.2"/>
<text transform="translate(256.80,613.50) scale(0.8,1)" font-size="8.3" font-weight="bold" text-anchor="end" fill="#2a2a2a" stroke="#2a2a2a" stroke-width="0.35">1.5</text>
<line x1="258.9" y1="712.9" x2="261.4" y2="712.9" stroke="#111" stroke-width="1.2"/>
<line x1="258.9" y1="672.2" x2="261.4" y2="672.2" stroke="#111" stroke-width="1.2"/>
<line x1="258.9" y1="631.3" x2="261.4" y2="631.3" stroke="#111" stroke-width="1.2"/>
<line x1="263.61" y1="733.3" x2="263.61" y2="736.0999999999999" stroke="#111" stroke-width="1.3"/>
<line x1="269.43" y1="733.3" x2="269.43" y2="736.0999999999999" stroke="#111" stroke-width="1.3"/>
<line x1="275.26" y1="733.3" x2="275.26" y2="736.0999999999999" stroke="#111" stroke-width="1.3"/>
<line x1="281.08" y1="733.3" x2="281.08" y2="736.0999999999999" stroke="#111" stroke-width="1.3"/>
<line x1="286.90" y1="733.3" x2="286.90" y2="737.6999999999999" stroke="#111" stroke-width="1.3"/>
<line x1="292.72" y1="733.3" x2="292.72" y2="736.0999999999999" stroke="#111" stroke-width="1.3"/>
<line x1="298.54" y1="733.3" x2="298.54" y2="736.0999999999999" stroke="#111" stroke-width="1.3"/>
<line x1="304.37" y1="733.3" x2="304.37" y2="736.0999999999999" stroke="#111" stroke-width="1.3"/>
<line x1="310.19" y1="733.3" x2="310.19" y2="736.0999999999999" stroke="#111" stroke-width="1.3"/>
<line x1="316.01" y1="733.3" x2="316.01" y2="736.0999999999999" stroke="#111" stroke-width="1.3"/>
<line x1="321.83" y1="733.3" x2="321.83" y2="736.0999999999999" stroke="#111" stroke-width="1.3"/>
<line x1="327.66" y1="733.3" x2="327.66" y2="736.0999999999999" stroke="#111" stroke-width="1.3"/>
<line x1="333.48" y1="733.3" x2="333.48" y2="736.0999999999999" stroke="#111" stroke-width="1.3"/>
<line x1="339.30" y1="733.3" x2="339.30" y2="737.6999999999999" stroke="#111" stroke-width="1.3"/>
<line x1="345.12" y1="733.3" x2="345.12" y2="736.0999999999999" stroke="#111" stroke-width="1.3"/>
<line x1="350.94" y1="733.3" x2="350.94" y2="736.0999999999999" stroke="#111" stroke-width="1.3"/>
<line x1="356.77" y1="733.3" x2="356.77" y2="736.0999999999999" stroke="#111" stroke-width="1.3"/>
<line x1="362.59" y1="733.3" x2="362.59" y2="736.0999999999999" stroke="#111" stroke-width="1.3"/>
<line x1="368.41" y1="733.3" x2="368.41" y2="736.0999999999999" stroke="#111" stroke-width="1.3"/>
<line x1="374.23" y1="733.3" x2="374.23" y2="736.0999999999999" stroke="#111" stroke-width="1.3"/>
<line x1="380.06" y1="733.3" x2="380.06" y2="736.0999999999999" stroke="#111" stroke-width="1.3"/>
<line x1="385.88" y1="733.3" x2="385.88" y2="736.0999999999999" stroke="#111" stroke-width="1.3"/>
<line x1="391.70" y1="733.3" x2="391.70" y2="737.6999999999999" stroke="#111" stroke-width="1.3"/>
<line x1="397.52" y1="733.3" x2="397.52" y2="736.0999999999999" stroke="#111" stroke-width="1.3"/>
<line x1="403.34" y1="733.3" x2="403.34" y2="736.0999999999999" stroke="#111" stroke-width="1.3"/>
<line x1="409.17" y1="733.3" x2="409.17" y2="736.0999999999999" stroke="#111" stroke-width="1.3"/>
<line x1="414.99" y1="733.3" x2="414.99" y2="736.0999999999999" stroke="#111" stroke-width="1.3"/>
<line x1="420.81" y1="733.3" x2="420.81" y2="736.0999999999999" stroke="#111" stroke-width="1.3"/>
<line x1="426.63" y1="733.3" x2="426.63" y2="736.0999999999999" stroke="#111" stroke-width="1.3"/>
<line x1="432.46" y1="733.3" x2="432.46" y2="736.0999999999999" stroke="#111" stroke-width="1.3"/>
<line x1="438.28" y1="733.3" x2="438.28" y2="736.0999999999999" stroke="#111" stroke-width="1.3"/>
<line x1="444.10" y1="733.3" x2="444.10" y2="737.6999999999999" stroke="#111" stroke-width="1.3"/>
<text transform="translate(287.30,745.70) scale(0.84,1)" font-size="7.5" font-weight="bold" text-anchor="middle" fill="#333" stroke="#333" stroke-width="0.3">10<tspan font-size="4.6" dy="-3.6">-10</tspan></text>
<text transform="translate(339.70,745.70) scale(0.84,1)" font-size="7.5" font-weight="bold" text-anchor="middle" fill="#333" stroke="#333" stroke-width="0.3">10<tspan font-size="4.6" dy="-3.6">-8</tspan></text>
<text transform="translate(392.10,745.70) scale(0.84,1)" font-size="7.5" font-weight="bold" text-anchor="middle" fill="#333" stroke="#333" stroke-width="0.3">10<tspan font-size="4.6" dy="-3.6">-6</tspan></text>
<text transform="translate(444.50,745.70) scale(0.84,1)" font-size="7.5" font-weight="bold" text-anchor="middle" fill="#333" stroke="#333" stroke-width="0.3">10<tspan font-size="4.6" dy="-3.6">-4</tspan></text>
<line x1="473.9" y1="610.1999999999999" x2="473.9" y2="733.3" stroke="#111" stroke-width="1.5"/>
<line x1="473.2" y1="733.3" x2="655.9" y2="733.3" stroke="#111" stroke-width="1.5"/>
<line x1="470.09999999999997" y1="733.3" x2="473.9" y2="733.3" stroke="#111" stroke-width="1.2"/>
<text transform="translate(469.30,736.00) scale(0.8,1)" font-size="8.3" font-weight="bold" text-anchor="end" fill="#2a2a2a" stroke="#2a2a2a" stroke-width="0.35">0.0</text>
<line x1="470.09999999999997" y1="692.5" x2="473.9" y2="692.5" stroke="#111" stroke-width="1.2"/>
<text transform="translate(469.30,695.20) scale(0.8,1)" font-size="8.3" font-weight="bold" text-anchor="end" fill="#2a2a2a" stroke="#2a2a2a" stroke-width="0.35">0.5</text>
<line x1="470.09999999999997" y1="651.8" x2="473.9" y2="651.8" stroke="#111" stroke-width="1.2"/>
<text transform="translate(469.30,654.50) scale(0.8,1)" font-size="8.3" font-weight="bold" text-anchor="end" fill="#2a2a2a" stroke="#2a2a2a" stroke-width="0.35">1.0</text>
<line x1="470.09999999999997" y1="610.8" x2="473.9" y2="610.8" stroke="#111" stroke-width="1.2"/>
<text transform="translate(469.30,613.50) scale(0.8,1)" font-size="8.3" font-weight="bold" text-anchor="end" fill="#2a2a2a" stroke="#2a2a2a" stroke-width="0.35">1.5</text>
<line x1="471.4" y1="712.9" x2="473.9" y2="712.9" stroke="#111" stroke-width="1.2"/>
<line x1="471.4" y1="672.2" x2="473.9" y2="672.2" stroke="#111" stroke-width="1.2"/>
<line x1="471.4" y1="631.3" x2="473.9" y2="631.3" stroke="#111" stroke-width="1.2"/>
<line x1="474.30" y1="733.3" x2="474.30" y2="737.6999999999999" stroke="#111" stroke-width="1.3"/>
<line x1="481.04" y1="733.3" x2="481.04" y2="736.0999999999999" stroke="#111" stroke-width="1.3"/>
<line x1="487.79" y1="733.3" x2="487.79" y2="736.0999999999999" stroke="#111" stroke-width="1.3"/>
<line x1="494.53" y1="733.3" x2="494.53" y2="736.0999999999999" stroke="#111" stroke-width="1.3"/>
<line x1="501.28" y1="733.3" x2="501.28" y2="736.0999999999999" stroke="#111" stroke-width="1.3"/>
<line x1="508.02" y1="733.3" x2="508.02" y2="736.0999999999999" stroke="#111" stroke-width="1.3"/>
<line x1="514.77" y1="733.3" x2="514.77" y2="736.0999999999999" stroke="#111" stroke-width="1.3"/>
<line x1="521.51" y1="733.3" x2="521.51" y2="736.0999999999999" stroke="#111" stroke-width="1.3"/>
<line x1="528.26" y1="733.3" x2="528.26" y2="736.0999999999999" stroke="#111" stroke-width="1.3"/>
<line x1="535.00" y1="733.3" x2="535.00" y2="737.6999999999999" stroke="#111" stroke-width="1.3"/>
<line x1="541.74" y1="733.3" x2="541.74" y2="736.0999999999999" stroke="#111" stroke-width="1.3"/>
<line x1="548.49" y1="733.3" x2="548.49" y2="736.0999999999999" stroke="#111" stroke-width="1.3"/>
<line x1="555.23" y1="733.3" x2="555.23" y2="736.0999999999999" stroke="#111" stroke-width="1.3"/>
<line x1="561.98" y1="733.3" x2="561.98" y2="736.0999999999999" stroke="#111" stroke-width="1.3"/>
<line x1="568.72" y1="733.3" x2="568.72" y2="736.0999999999999" stroke="#111" stroke-width="1.3"/>
<line x1="575.47" y1="733.3" x2="575.47" y2="736.0999999999999" stroke="#111" stroke-width="1.3"/>
<line x1="582.21" y1="733.3" x2="582.21" y2="736.0999999999999" stroke="#111" stroke-width="1.3"/>
<line x1="588.96" y1="733.3" x2="588.96" y2="736.0999999999999" stroke="#111" stroke-width="1.3"/>
<line x1="595.70" y1="733.3" x2="595.70" y2="737.6999999999999" stroke="#111" stroke-width="1.3"/>
<line x1="602.44" y1="733.3" x2="602.44" y2="736.0999999999999" stroke="#111" stroke-width="1.3"/>
<line x1="609.19" y1="733.3" x2="609.19" y2="736.0999999999999" stroke="#111" stroke-width="1.3"/>
<line x1="615.93" y1="733.3" x2="615.93" y2="736.0999999999999" stroke="#111" stroke-width="1.3"/>
<line x1="622.68" y1="733.3" x2="622.68" y2="736.0999999999999" stroke="#111" stroke-width="1.3"/>
<line x1="629.42" y1="733.3" x2="629.42" y2="736.0999999999999" stroke="#111" stroke-width="1.3"/>
<line x1="636.17" y1="733.3" x2="636.17" y2="736.0999999999999" stroke="#111" stroke-width="1.3"/>
<line x1="642.91" y1="733.3" x2="642.91" y2="736.0999999999999" stroke="#111" stroke-width="1.3"/>
<line x1="649.66" y1="733.3" x2="649.66" y2="736.0999999999999" stroke="#111" stroke-width="1.3"/>
<line x1="656.40" y1="733.3" x2="656.40" y2="737.6999999999999" stroke="#111" stroke-width="1.3"/>
<text transform="translate(474.70,745.70) scale(0.84,1)" font-size="7.5" font-weight="bold" text-anchor="middle" fill="#333" stroke="#333" stroke-width="0.3">10<tspan font-size="4.6" dy="-3.6">-10</tspan></text>
<text transform="translate(535.40,745.70) scale(0.84,1)" font-size="7.5" font-weight="bold" text-anchor="middle" fill="#333" stroke="#333" stroke-width="0.3">10<tspan font-size="4.6" dy="-3.6">-8</tspan></text>
<text transform="translate(596.10,745.70) scale(0.84,1)" font-size="7.5" font-weight="bold" text-anchor="middle" fill="#333" stroke="#333" stroke-width="0.3">10<tspan font-size="4.6" dy="-3.6">-6</tspan></text>
<text transform="translate(656.80,745.70) scale(0.84,1)" font-size="7.5" font-weight="bold" text-anchor="middle" fill="#333" stroke="#333" stroke-width="0.3">10<tspan font-size="4.6" dy="-3.6">-4</tspan></text>
<path d="M69.30,632.06 L70.39,632.08 L71.47,632.11 L72.56,632.14 L73.65,632.17 L74.73,632.21 L75.82,632.26 L76.91,632.31 L77.99,632.37 L79.08,632.44 L80.17,632.51 L81.25,632.60 L82.34,632.70 L83.43,632.82 L84.51,632.95 L85.60,633.10 L86.69,633.27 L87.77,633.47 L88.86,633.69 L89.95,633.95 L91.03,634.24 L92.12,634.57 L93.21,634.94 L94.29,635.37 L95.38,635.85 L96.47,636.40 L97.55,637.01 L98.64,637.71 L99.73,638.49 L100.81,639.37 L101.90,640.36 L102.99,641.46 L104.07,642.68 L105.16,644.04 L106.25,645.53 L107.33,647.18 L108.42,648.98 L109.51,650.94 L110.59,653.05 L111.68,655.33 L112.77,657.75 L113.85,660.32 L114.94,663.02 L116.03,665.84 L117.11,668.74 L118.20,671.73 L119.29,674.75 L120.37,677.80 L121.46,680.83 L122.55,683.83 L123.63,686.76 L124.72,689.61 L125.81,692.35 L126.89,694.96 L127.98,697.43 L129.07,699.75 L130.15,701.92 L131.24,703.93 L132.33,705.78 L133.41,707.47 L134.50,709.01 L135.59,710.41 L136.67,711.68 L137.76,712.81 L138.85,713.83 L139.93,714.74 L141.02,715.56 L142.11,716.28 L143.19,716.92 L144.28,717.49 L145.37,717.99 L146.45,718.43 L147.54,718.82 L148.63,719.16 L149.71,719.47 L150.80,719.73 L151.89,719.96 L152.97,720.17 L154.06,720.35 L155.15,720.50 L156.23,720.64 L157.32,720.76 L158.41,720.87 L159.49,720.96 L160.58,721.04 L161.67,721.11 L162.75,721.17 L163.84,721.23 L164.93,721.27 L166.01,721.32 L167.10,721.35 L168.19,721.38 L169.27,721.41 L170.36,721.43 L171.45,721.46 L172.53,721.47 L173.62,721.49 L174.71,721.50 L175.79,721.52 L176.88,721.53 L177.97,721.54 L179.05,721.54 L180.14,721.55 L181.23,721.56 L182.31,721.56 L183.40,721.57 L184.49,721.57 L185.57,721.58 L186.66,721.58 L187.75,721.58 L188.83,721.58 L189.92,721.59 L191.01,721.59 L192.09,721.59 L193.18,721.59 L194.27,721.59 L195.35,721.59 L196.44,721.59 L197.53,721.59 L198.61,721.60 L199.70,721.60" fill="none" stroke="#000" stroke-width="1.4" stroke-linejoin="round" opacity="1"/>
<path d="M69.30,631.90 L70.11,631.90 L70.93,631.90 L71.74,631.90 L72.56,631.90 L73.38,631.90 L74.19,631.90 L75.00,631.90 L75.82,631.90 L76.63,631.90 L77.45,631.90 L78.27,631.90 L79.08,631.90 L79.89,631.90 L80.71,631.90 L81.52,631.90 L82.34,631.90 L83.16,631.90 L83.97,631.90 L84.78,631.90 L85.60,631.90 L86.41,631.90 L87.23,631.90 L88.04,631.90 L88.86,631.90 L89.67,631.90 L90.49,631.90 L91.30,631.90 L92.12,631.90 L92.94,631.91 L93.75,631.91 L94.56,631.91 L95.38,631.91 L96.19,631.91 L97.01,631.92 L97.82,631.92 L98.64,631.93 L99.45,631.93 L100.27,631.94 L101.08,631.96 L101.90,631.97 L102.71,631.99 L103.53,632.01 L104.34,632.04 L105.16,632.08 L105.97,632.13 L106.79,632.20 L107.60,632.28 L108.42,632.38 L109.23,632.51 L110.05,632.67 L110.86,632.88 L111.68,633.14 L112.49,633.47 L113.31,633.88 L114.12,634.40 L114.94,635.05 L115.75,635.87 L116.57,636.89 L117.38,638.14 L118.20,639.69 L119.01,641.57 L119.83,643.84 L120.64,646.55 L121.46,649.73 L122.27,653.40 L123.09,657.56 L123.91,662.16 L124.72,667.14 L125.53,672.38 L126.35,677.74 L127.16,683.07 L127.98,688.23 L128.79,693.08 L129.61,697.53 L130.42,701.51 L131.24,705.00 L132.05,708.00 L132.87,710.54 L133.69,712.66 L134.50,714.42 L135.31,715.85 L136.13,717.01 L136.94,717.95 L137.76,718.70 L138.57,719.30 L139.39,719.78 L140.20,720.16 L141.02,720.47 L141.83,720.71 L142.65,720.90 L143.46,721.04 L144.28,721.16 L145.09,721.26 L145.91,721.33 L146.72,721.39 L147.54,721.43 L148.35,721.47 L149.17,721.50 L149.98,721.52 L150.80,721.54 L151.61,721.55 L152.43,721.56 L153.24,721.57 L154.06,721.58 L154.88,721.58 L155.69,721.58 L156.50,721.59 L157.32,721.59 L158.13,721.59 L158.95,721.59 L159.76,721.60 L160.58,721.60 L161.39,721.60 L162.21,721.60 L163.02,721.60 L163.84,721.60 L164.65,721.60 L165.47,721.60 L166.28,721.60 L167.10,721.60 L167.91,721.60 L168.73,721.60 L169.54,721.60 L170.36,721.60 L171.17,721.60 L171.99,721.60 L172.80,721.60 L173.62,721.60 L174.44,721.60 L175.25,721.60 L176.06,721.60 L176.88,721.60 L177.69,721.60 L178.51,721.60 L179.32,721.60 L180.14,721.60 L180.95,721.60 L181.77,721.60 L182.58,721.60 L183.40,721.60 L184.21,721.60 L185.03,721.60 L185.84,721.60 L186.66,721.60 L187.47,721.60 L188.29,721.60 L189.10,721.60 L189.92,721.60 L190.73,721.60 L191.55,721.60 L192.36,721.60 L193.18,721.60 L193.99,721.60 L194.81,721.60 L195.62,721.60 L196.44,721.60 L197.25,721.60 L198.07,721.60 L198.88,721.60 L199.70,721.60" fill="none" stroke="#000" stroke-width="1.6" stroke-linejoin="round" opacity="1"/>
<path d="M69.30,631.90 L70.11,631.90 L70.93,631.90 L71.74,631.90 L72.56,631.90 L73.38,631.90 L74.19,631.90 L75.00,631.90 L75.82,631.90 L76.63,631.90 L77.45,631.90 L78.27,631.90 L79.08,631.90 L79.89,631.90 L80.71,631.90 L81.52,631.90 L82.34,631.90 L83.16,631.90 L83.97,631.90 L84.78,631.90 L85.60,631.90 L86.41,631.90 L87.23,631.90 L88.04,631.90 L88.86,631.90 L89.67,631.90 L90.49,631.90 L91.30,631.90 L92.12,631.90 L92.94,631.91 L93.75,631.91 L94.56,631.91 L95.38,631.91 L96.19,631.91 L97.01,631.92 L97.82,631.92 L98.64,631.93 L99.45,631.94 L100.27,631.95 L101.08,631.96 L101.90,631.97 L102.71,631.99 L103.53,632.02 L104.34,632.05 L105.16,632.09 L105.97,632.14 L106.79,632.20 L107.60,632.28 L108.42,632.38 L109.23,632.50 L110.05,632.65 L110.86,632.85 L111.68,633.10 L112.49,633.41 L113.31,633.79 L114.12,634.28 L114.94,634.88 L115.75,635.63 L116.57,636.56 L117.38,637.71 L118.20,639.12 L119.01,640.84 L119.83,642.92 L120.64,645.41 L121.46,648.34 L122.27,651.77 L123.09,655.69 L123.91,660.11 L124.72,664.97 L125.53,670.20 L126.35,675.68 L127.16,681.29 L127.98,686.86 L128.79,692.26 L129.61,697.35 L130.42,702.04 L131.24,706.26 L132.05,709.98 L132.87,713.20 L133.69,715.95 L134.50,718.27 L135.31,720.19 L136.13,721.78 L136.94,723.08 L137.76,724.14 L138.57,724.99 L139.39,725.68 L140.20,726.23 L141.02,726.67 L141.83,727.03 L142.65,727.31 L143.46,727.53 L144.28,727.71 L145.09,727.85 L145.91,727.97 L146.72,728.06 L147.54,728.13 L148.35,728.18 L149.17,728.23 L149.98,728.26 L150.80,728.29 L151.61,728.31 L152.43,728.33 L153.24,728.35 L154.06,728.36 L154.88,728.37 L155.69,728.37 L156.50,728.38 L157.32,728.38 L158.13,728.39 L158.95,728.39 L159.76,728.39 L160.58,728.39 L161.39,728.39 L162.21,728.40 L163.02,728.40 L163.84,728.40 L164.65,728.40 L165.47,728.40 L166.28,728.40 L167.10,728.40 L167.91,728.40 L168.73,728.40 L169.54,728.40 L170.36,728.40 L171.17,728.40 L171.99,728.40 L172.80,728.40 L173.62,728.40 L174.44,728.40 L175.25,728.40 L176.06,728.40 L176.88,728.40 L177.69,728.40 L178.51,728.40 L179.32,728.40 L180.14,728.40 L180.95,728.40 L181.77,728.40 L182.58,728.40 L183.40,728.40 L184.21,728.40 L185.03,728.40 L185.84,728.40 L186.66,728.40 L187.47,728.40 L188.29,728.40 L189.10,728.40 L189.92,728.40 L190.73,728.40 L191.55,728.40 L192.36,728.40 L193.18,728.40 L193.99,728.40 L194.81,728.40 L195.62,728.40 L196.44,728.40 L197.25,728.40 L198.07,728.40 L198.88,728.40 L199.70,728.40" fill="none" stroke="#000" stroke-width="1.6" stroke-linejoin="round" opacity="1"/>
<path d="M69.30,631.90 L69.95,631.90 L70.60,631.90 L71.26,631.90 L71.91,631.90 L72.56,631.90 L73.21,631.90 L73.86,631.90 L74.52,631.90 L75.17,631.90 L75.82,631.90 L76.47,631.90 L77.12,631.90 L77.78,631.90 L78.43,631.90 L79.08,631.90 L79.73,631.90 L80.38,631.90 L81.04,631.90 L81.69,631.90 L82.34,631.90 L82.99,631.90 L83.64,631.90 L84.30,631.90 L84.95,631.90 L85.60,631.90 L86.25,631.90 L86.90,631.90 L87.56,631.90 L88.21,631.90 L88.86,631.90 L89.51,631.90 L90.16,631.90 L90.82,631.90 L91.47,631.90 L92.12,631.90 L92.77,631.90 L93.42,631.90 L94.08,631.90 L94.73,631.90 L95.38,631.90 L96.03,631.90 L96.68,631.90 L97.34,631.90 L97.99,631.90 L98.64,631.90 L99.29,631.90 L99.94,631.90 L100.60,631.90 L101.25,631.90 L101.90,631.90 L102.55,631.90 L103.20,631.90 L103.86,631.90 L104.51,631.90 L105.16,631.90 L105.81,631.90 L106.46,631.90 L107.12,631.90 L107.77,631.90 L108.42,631.90 L109.07,631.90 L109.72,631.90 L110.38,631.90 L111.03,631.90 L111.68,631.90 L112.33,631.90 L112.98,631.90 L113.64,631.90 L114.29,631.90 L114.94,631.90 L115.59,631.91 L116.24,631.91 L116.90,631.91 L117.55,631.92 L118.20,631.94 L118.85,631.97 L119.50,632.01 L120.16,632.08 L120.81,632.20 L121.46,632.40 L122.11,632.72 L122.76,633.24 L123.42,634.09 L124.07,635.46 L124.72,637.63 L125.37,640.99 L126.02,645.97 L126.68,652.97 L127.33,662.04 L127.98,672.69 L128.63,683.78 L129.28,694.02 L129.94,702.44 L130.59,708.76 L131.24,713.16 L131.89,716.08 L132.54,717.96 L133.20,719.13 L133.85,719.86 L134.50,720.31 L135.15,720.58 L135.80,720.74 L136.46,720.84 L137.11,720.91 L137.76,720.94 L138.41,720.97 L139.06,720.98 L139.72,720.99 L140.37,720.99 L141.02,721.00 L141.67,721.00 L142.32,721.00 L142.98,721.00 L143.63,721.00 L144.28,721.00 L144.93,721.00 L145.58,721.00 L146.24,721.00 L146.89,721.00 L147.54,721.00 L148.19,721.00 L148.84,721.00 L149.50,721.00 L150.15,721.00 L150.80,721.00 L151.45,721.00 L152.10,721.00 L152.76,721.00 L153.41,721.00 L154.06,721.00 L154.71,721.00 L155.36,721.00 L156.02,721.00 L156.67,721.00 L157.32,721.00 L157.97,721.00 L158.62,721.00 L159.28,721.00 L159.93,721.00 L160.58,721.00 L161.23,721.00 L161.88,721.00 L162.54,721.00 L163.19,721.00 L163.84,721.00 L164.49,721.00 L165.14,721.00 L165.80,721.00 L166.45,721.00 L167.10,721.00 L167.75,721.00 L168.40,721.00 L169.06,721.00 L169.71,721.00 L170.36,721.00 L171.01,721.00 L171.66,721.00 L172.32,721.00 L172.97,721.00 L173.62,721.00 L174.27,721.00 L174.92,721.00 L175.58,721.00 L176.23,721.00 L176.88,721.00 L177.53,721.00 L178.18,721.00 L178.84,721.00 L179.49,721.00 L180.14,721.00 L180.79,721.00 L181.44,721.00 L182.10,721.00 L182.75,721.00 L183.40,721.00 L184.05,721.00 L184.70,721.00 L185.36,721.00 L186.01,721.00 L186.66,721.00 L187.31,721.00 L187.96,721.00 L188.62,721.00 L189.27,721.00 L189.92,721.00 L190.57,721.00 L191.22,721.00 L191.88,721.00 L192.53,721.00 L193.18,721.00 L193.83,721.00 L194.48,721.00 L195.14,721.00 L195.79,721.00 L196.44,721.00 L197.09,721.00 L197.74,721.00 L198.40,721.00 L199.05,721.00 L199.70,721.00" fill="none" stroke="#000" stroke-width="1.3" stroke-linejoin="round" opacity="1"/>
<rect x="198.20" y="720.10" width="3" height="3" fill="#000"/>
<rect x="198.20" y="726.90" width="3" height="3" fill="#000"/>
<circle cx="144.50" cy="720.80" r="1.5" fill="#000"/>
<circle cx="144.50" cy="727.50" r="1.5" fill="#000"/>
<circle cx="150.60" cy="720.50" r="1.5" fill="#000"/>
<circle cx="150.60" cy="728.00" r="1.5" fill="#000"/>
<circle cx="130.00" cy="705.00" r="1.5" fill="#000"/>
<circle cx="131.00" cy="712.00" r="1.5" fill="#000"/>
<path d="M150.60,714.50 V723.00 M149.30,714.50 H151.90 M149.30,723.00 H151.90" stroke="#000" stroke-width="1.0" fill="none"/>
<path d="M69.30,630.80 L128.00,630.80" fill="none" stroke="#ef0a0a" stroke-width="2.6" stroke-dasharray="4.2 2.2" stroke-linejoin="round" opacity="1"/>
<path d="M118.00,630.80 L119.02,630.80 L120.04,630.80 L121.06,630.80 L122.08,630.80 L123.11,630.80 L124.13,630.80 L125.15,630.80 L126.17,630.80 L127.19,630.80 L128.21,630.80 L129.23,630.80 L130.25,630.81 L131.28,630.81 L132.30,630.82 L133.32,630.82 L134.34,630.83 L135.36,630.85 L136.38,630.87 L137.40,630.91 L138.43,630.96 L139.45,631.04 L140.47,631.15 L141.49,631.31 L142.51,631.54 L143.53,631.88 L144.55,632.35 L145.57,633.00 L146.59,633.86 L147.62,634.97 L148.64,636.31 L149.66,637.85 L150.68,639.49 L151.70,641.11 L152.72,642.59 L153.74,643.85 L154.76,644.87 L155.79,645.66 L156.81,646.24 L157.83,646.65 L158.85,646.95 L159.87,647.16 L160.89,647.30 L161.91,647.39 L162.94,647.46 L163.96,647.51 L164.98,647.54 L166.00,647.56 L167.02,647.57 L168.04,647.58 L169.06,647.59 L170.08,647.59 L171.10,647.59 L172.13,647.60 L173.15,647.60 L174.17,647.60 L175.19,647.60 L176.21,647.60 L177.23,647.60 L178.25,647.60 L179.27,647.60 L180.30,647.60 L181.32,647.60 L182.34,647.60 L183.36,647.60 L184.38,647.60 L185.40,647.60 L186.42,647.60 L187.44,647.60 L188.47,647.60 L189.49,647.60 L190.51,647.60 L191.53,647.60 L192.55,647.60 L193.57,647.60 L194.59,647.60 L195.61,647.60 L196.64,647.60 L197.66,647.60 L198.68,647.60 L199.70,647.60" fill="none" stroke="#ef0a0a" stroke-width="1.7" stroke-dasharray="4.2 2.2" stroke-linejoin="round" opacity="1"/>
<path d="M118.00,630.83 L119.02,630.84 L120.04,630.85 L121.06,630.86 L122.08,630.88 L123.11,630.90 L124.13,630.93 L125.15,630.96 L126.17,631.01 L127.19,631.07 L128.21,631.15 L129.23,631.25 L130.25,631.38 L131.28,631.54 L132.30,631.75 L133.32,632.01 L134.34,632.35 L135.36,632.76 L136.38,633.28 L137.40,633.91 L138.43,634.68 L139.45,635.59 L140.47,636.67 L141.49,637.90 L142.51,639.28 L143.53,640.78 L144.55,642.36 L145.57,643.99 L146.59,645.60 L147.62,647.14 L148.64,648.58 L149.66,649.88 L150.68,651.03 L151.70,652.02 L152.72,652.85 L153.74,653.55 L154.76,654.11 L155.79,654.57 L156.81,654.94 L157.83,655.23 L158.85,655.47 L159.87,655.65 L160.89,655.79 L161.91,655.91 L162.94,655.99 L163.96,656.06 L164.98,656.12 L166.00,656.16 L167.02,656.19 L168.04,656.21 L169.06,656.23 L170.08,656.25 L171.10,656.26 L172.13,656.27 L173.15,656.28 L174.17,656.28 L175.19,656.29 L176.21,656.29 L177.23,656.29 L178.25,656.29 L179.27,656.29 L180.30,656.30 L181.32,656.30 L182.34,656.30 L183.36,656.30 L184.38,656.30 L185.40,656.30 L186.42,656.30 L187.44,656.30 L188.47,656.30 L189.49,656.30 L190.51,656.30 L191.53,656.30 L192.55,656.30 L193.57,656.30 L194.59,656.30 L195.61,656.30 L196.64,656.30 L197.66,656.30 L198.68,656.30 L199.70,656.30" fill="none" stroke="#ef0a0a" stroke-width="1.7" stroke-dasharray="4.2 2.2" stroke-linejoin="round" opacity="1"/>
<path d="M118.00,630.86 L119.02,630.87 L120.04,630.89 L121.06,630.92 L122.08,630.95 L123.11,630.98 L124.13,631.03 L125.15,631.09 L126.17,631.16 L127.19,631.25 L128.21,631.36 L129.23,631.50 L130.25,631.68 L131.28,631.89 L132.30,632.16 L133.32,632.49 L134.34,632.88 L135.36,633.37 L136.38,633.96 L137.40,634.66 L138.43,635.48 L139.45,636.45 L140.47,637.57 L141.49,638.83 L142.51,640.23 L143.53,641.75 L144.55,643.37 L145.57,645.04 L146.59,646.74 L147.62,648.41 L148.64,650.01 L149.66,651.51 L150.68,652.89 L151.70,654.13 L152.72,655.22 L153.74,656.16 L154.76,656.97 L155.79,657.65 L156.81,658.22 L157.83,658.69 L158.85,659.07 L159.87,659.39 L160.89,659.65 L161.91,659.85 L162.94,660.02 L163.96,660.16 L164.98,660.27 L166.00,660.35 L167.02,660.42 L168.04,660.48 L169.06,660.52 L170.08,660.56 L171.10,660.59 L172.13,660.61 L173.15,660.63 L174.17,660.64 L175.19,660.65 L176.21,660.66 L177.23,660.67 L178.25,660.68 L179.27,660.68 L180.30,660.69 L181.32,660.69 L182.34,660.69 L183.36,660.69 L184.38,660.69 L185.40,660.70 L186.42,660.70 L187.44,660.70 L188.47,660.70 L189.49,660.70 L190.51,660.70 L191.53,660.70 L192.55,660.70 L193.57,660.70 L194.59,660.70 L195.61,660.70 L196.64,660.70 L197.66,660.70 L198.68,660.70 L199.70,660.70" fill="none" stroke="#ef0a0a" stroke-width="1.7" stroke-dasharray="4.2 2.2" stroke-linejoin="round" opacity="1"/>
<path d="M118.00,630.91 L119.02,630.94 L120.04,630.96 L121.06,631.00 L122.08,631.04 L123.11,631.08 L124.13,631.14 L125.15,631.21 L126.17,631.29 L127.19,631.39 L128.21,631.51 L129.23,631.65 L130.25,631.82 L131.28,632.03 L132.30,632.27 L133.32,632.56 L134.34,632.90 L135.36,633.30 L136.38,633.78 L137.40,634.34 L138.43,635.00 L139.45,635.76 L140.47,636.64 L141.49,637.66 L142.51,638.81 L143.53,640.11 L144.55,641.56 L145.57,643.16 L146.59,644.90 L147.62,646.76 L148.64,648.74 L149.66,650.79 L150.68,652.89 L151.70,655.00 L152.72,657.08 L153.74,659.11 L154.76,661.05 L155.79,662.87 L156.81,664.56 L157.83,666.10 L158.85,667.49 L159.87,668.74 L160.89,669.84 L161.91,670.80 L162.94,671.64 L163.96,672.36 L164.98,672.98 L166.00,673.51 L167.02,673.96 L168.04,674.34 L169.06,674.66 L170.08,674.93 L171.10,675.15 L172.13,675.34 L173.15,675.50 L174.17,675.64 L175.19,675.75 L176.21,675.84 L177.23,675.92 L178.25,675.98 L179.27,676.04 L180.30,676.08 L181.32,676.12 L182.34,676.15 L183.36,676.17 L184.38,676.20 L185.40,676.21 L186.42,676.23 L187.44,676.24 L188.47,676.25 L189.49,676.26 L190.51,676.27 L191.53,676.27 L192.55,676.28 L193.57,676.28 L194.59,676.28 L195.61,676.29 L196.64,676.29 L197.66,676.29 L198.68,676.29 L199.70,676.29" fill="none" stroke="#ef0a0a" stroke-width="1.7" stroke-dasharray="4.2 2.2" stroke-linejoin="round" opacity="1"/>
<path d="M129.90,615.40 V633.00 M128.70,615.40 H131.10 M128.70,633.00 H131.10" stroke="#ef0a0a" stroke-width="1.1" fill="none"/>
<rect x="128.30" y="628.90" width="3.2" height="3.2" fill="#ef0a0a"/>
<circle cx="144.30" cy="614.80" r="1.4" fill="#ef0a0a"/>
<circle cx="150.50" cy="619.50" r="1.9" fill="#ef0a0a"/>
<circle cx="144.50" cy="643.00" r="1.4" fill="#ef0a0a"/>
<circle cx="144.50" cy="648.40" r="1.4" fill="#ef0a0a"/>
<circle cx="144.50" cy="655.30" r="1.4" fill="#ef0a0a"/>
<circle cx="144.50" cy="657.50" r="1.4" fill="#ef0a0a"/>
<circle cx="150.60" cy="635.30" r="1.5" fill="#ef0a0a"/>
<circle cx="150.60" cy="653.50" r="1.5" fill="#ef0a0a"/>
<circle cx="150.60" cy="656.50" r="1.5" fill="#ef0a0a"/>
<path d="M199.70,632.50 V640.00 M198.50,632.50 H200.90 M198.50,640.00 H200.90" stroke="#ef0a0a" stroke-width="1.0" fill="none"/>
<circle cx="199.70" cy="636.20" r="1.5" fill="#ef0a0a"/>
<path d="M199.70,652.50 V669.00 M198.50,652.50 H200.90 M198.50,669.00 H200.90" stroke="#ef0a0a" stroke-width="1.0" fill="none"/>
<rect x="198.40" y="646.30" width="2.6" height="2.6" fill="#ef0a0a"/>
<rect x="198.40" y="655.00" width="2.6" height="2.6" fill="#ef0a0a"/>
<rect x="198.40" y="659.40" width="2.6" height="2.6" fill="#ef0a0a"/>
<rect x="198.40" y="675.00" width="2.6" height="2.6" fill="#ef0a0a"/>
<path d="M287.20,653.60 L288.77,654.80 L290.35,656.69 L291.93,659.52 L293.50,663.44 L295.07,668.30 L296.65,673.59 L298.22,678.57 L299.80,682.67 L301.38,685.69 L302.95,687.73 L304.52,689.03 L306.10,689.83 L307.68,690.31 L309.25,690.60 L310.82,690.77 L312.40,690.86 L313.97,690.92 L315.55,690.95 L317.12,690.97 L318.70,690.98 L320.27,690.99 L321.85,690.99 L323.43,691.00 L325.00,691.00 L326.57,691.00 L328.15,691.00 L329.72,691.00 L331.30,691.00 L332.88,691.00 L334.45,691.00 L336.02,691.00 L337.60,691.00 L339.18,691.00 L340.75,691.00 L342.32,691.00 L343.90,691.00 L345.47,691.00 L347.05,691.00 L348.62,691.00 L350.20,691.00 L351.77,691.00 L353.35,691.00 L354.92,691.00 L356.50,691.00 L358.07,691.00 L359.65,691.00 L361.23,691.00 L362.80,691.00 L364.38,691.00 L365.95,691.00 L367.52,691.00 L369.10,691.00 L370.67,691.00 L372.25,691.00 L373.82,691.00 L375.40,691.00 L376.98,691.00 L378.55,691.00 L380.12,691.00 L381.70,691.00 L383.27,691.00 L384.85,691.00 L386.42,691.00 L388.00,691.00 L389.57,691.00 L391.15,691.00 L392.73,691.00 L394.30,691.00 L395.88,691.00 L397.45,691.00 L399.02,691.00 L400.60,691.00 L402.17,691.00 L403.75,691.00 L405.32,691.00 L406.90,691.00 L408.48,691.00 L410.05,691.00 L411.62,691.00 L413.20,691.00" fill="none" stroke="#000" stroke-width="1.5" stroke-linejoin="round" opacity="1"/>
<path d="M287.20,653.12 L288.77,653.92 L290.35,655.17 L291.93,657.07 L293.50,659.84 L295.07,663.65 L296.65,668.47 L298.22,674.00 L299.80,679.65 L301.38,684.77 L302.95,688.95 L304.52,692.07 L306.10,694.25 L307.68,695.70 L309.25,696.64 L310.82,697.23 L312.40,697.61 L313.97,697.83 L315.55,697.98 L317.12,698.06 L318.70,698.12 L320.27,698.15 L321.85,698.17 L323.43,698.18 L325.00,698.19 L326.57,698.19 L328.15,698.20 L329.72,698.20 L331.30,698.20 L332.88,698.20 L334.45,698.20 L336.02,698.20 L337.60,698.20 L339.18,698.20 L340.75,698.20 L342.32,698.20 L343.90,698.20 L345.47,698.20 L347.05,698.20 L348.62,698.20 L350.20,698.20 L351.77,698.20 L353.35,698.20 L354.92,698.20 L356.50,698.20 L358.07,698.20 L359.65,698.20 L361.23,698.20 L362.80,698.20 L364.38,698.20 L365.95,698.20 L367.52,698.20 L369.10,698.20 L370.67,698.20 L372.25,698.20 L373.82,698.20 L375.40,698.20 L376.98,698.20 L378.55,698.20 L380.12,698.20 L381.70,698.20 L383.27,698.20 L384.85,698.20 L386.42,698.20 L388.00,698.20 L389.57,698.20 L391.15,698.20 L392.73,698.20 L394.30,698.20 L395.88,698.20 L397.45,698.20 L399.02,698.20 L400.60,698.20 L402.17,698.20 L403.75,698.20 L405.32,698.20 L406.90,698.20 L408.48,698.20 L410.05,698.20 L411.62,698.20 L413.20,698.20" fill="none" stroke="#000" stroke-width="1.5" stroke-linejoin="round" opacity="1"/>
<path d="M287.20,651.80 L287.99,651.80 L288.77,651.80 L289.56,651.80 L290.35,651.80 L291.14,651.80 L291.93,651.80 L292.71,651.80 L293.50,651.80 L294.29,651.80 L295.07,651.80 L295.86,651.80 L296.65,651.80 L297.44,651.80 L298.22,651.80 L299.01,651.80 L299.80,651.80 L300.59,651.80 L301.38,651.80 L302.16,651.80 L302.95,651.80 L303.74,651.80 L304.52,651.80 L305.31,651.80 L306.10,651.80 L306.89,651.80 L307.68,651.80 L308.46,651.80 L309.25,651.80 L310.04,651.80 L310.82,651.80 L311.61,651.80 L312.40,651.80 L313.19,651.80 L313.97,651.80 L314.76,651.80 L315.55,651.80 L316.34,651.80 L317.12,651.80 L317.91,651.80 L318.70,651.80 L319.49,651.80 L320.27,651.80 L321.06,651.80 L321.85,651.80 L322.64,651.80 L323.43,651.80 L324.21,651.80 L325.00,651.80 L325.79,651.80 L326.57,651.80 L327.36,651.80 L328.15,651.80 L328.94,651.80 L329.72,651.80 L330.51,651.80 L331.30,651.80 L332.09,651.80 L332.88,651.80 L333.66,651.80 L334.45,651.80 L335.24,651.80 L336.02,651.80 L336.81,651.80 L337.60,651.80 L338.39,651.80 L339.18,651.80 L339.96,651.80 L340.75,651.80 L341.54,651.80 L342.32,651.80 L343.11,651.80 L343.90,651.80 L344.69,651.80 L345.47,651.80 L346.26,651.81 L347.05,651.81 L347.84,651.81 L348.62,651.82 L349.41,651.84 L350.20,651.86 L350.99,651.91 L351.77,651.97 L352.56,652.08 L353.35,652.26 L354.14,652.55 L354.92,653.02 L355.71,653.78 L356.50,654.97 L357.29,656.84 L358.07,659.67 L358.86,663.77 L359.65,669.38 L360.44,676.45 L361.23,684.47 L362.01,692.58 L362.80,699.87 L363.59,705.78 L364.38,710.16 L365.16,713.21 L365.95,715.23 L366.74,716.54 L367.52,717.36 L368.31,717.87 L369.10,718.19 L369.89,718.39 L370.67,718.51 L371.46,718.58 L372.25,718.63 L373.04,718.66 L373.82,718.67 L374.61,718.68 L375.40,718.69 L376.19,718.69 L376.98,718.70 L377.76,718.70 L378.55,718.70 L379.34,718.70 L380.12,718.70 L380.91,718.70 L381.70,718.70 L382.49,718.70 L383.27,718.70 L384.06,718.70 L384.85,718.70 L385.64,718.70 L386.42,718.70 L387.21,718.70 L388.00,718.70 L388.79,718.70 L389.57,718.70 L390.36,718.70 L391.15,718.70 L391.94,718.70 L392.73,718.70 L393.51,718.70 L394.30,718.70 L395.09,718.70 L395.88,718.70 L396.66,718.70 L397.45,718.70 L398.24,718.70 L399.02,718.70 L399.81,718.70 L400.60,718.70 L401.39,718.70 L402.17,718.70 L402.96,718.70 L403.75,718.70 L404.54,718.70 L405.32,718.70 L406.11,718.70 L406.90,718.70 L407.69,718.70 L408.48,718.70 L409.26,718.70 L410.05,718.70 L410.84,718.70 L411.62,718.70 L412.41,718.70 L413.20,718.70" fill="none" stroke="#000" stroke-width="1.5" stroke-linejoin="round" opacity="1"/>
<path d="M287.20,651.80 L287.99,651.80 L288.77,651.80 L289.56,651.80 L290.35,651.80 L291.14,651.80 L291.93,651.80 L292.71,651.80 L293.50,651.80 L294.29,651.80 L295.07,651.80 L295.86,651.80 L296.65,651.80 L297.44,651.80 L298.22,651.80 L299.01,651.80 L299.80,651.80 L300.59,651.80 L301.38,651.80 L302.16,651.80 L302.95,651.80 L303.74,651.80 L304.52,651.80 L305.31,651.80 L306.10,651.80 L306.89,651.80 L307.68,651.80 L308.46,651.80 L309.25,651.80 L310.04,651.80 L310.82,651.80 L311.61,651.80 L312.40,651.80 L313.19,651.80 L313.97,651.80 L314.76,651.80 L315.55,651.80 L316.34,651.80 L317.12,651.80 L317.91,651.80 L318.70,651.80 L319.49,651.80 L320.27,651.80 L321.06,651.80 L321.85,651.80 L322.64,651.80 L323.43,651.80 L324.21,651.80 L325.00,651.80 L325.79,651.80 L326.57,651.80 L327.36,651.80 L328.15,651.80 L328.94,651.80 L329.72,651.80 L330.51,651.80 L331.30,651.80 L332.09,651.80 L332.88,651.80 L333.66,651.80 L334.45,651.80 L335.24,651.80 L336.02,651.80 L336.81,651.80 L337.60,651.80 L338.39,651.80 L339.18,651.80 L339.96,651.80 L340.75,651.80 L341.54,651.80 L342.32,651.80 L343.11,651.80 L343.90,651.80 L344.69,651.80 L345.47,651.81 L346.26,651.81 L347.05,651.81 L347.84,651.82 L348.62,651.83 L349.41,651.84 L350.20,651.86 L350.99,651.89 L351.77,651.94 L352.56,652.00 L353.35,652.10 L354.14,652.24 L354.92,652.45 L355.71,652.75 L356.50,653.19 L357.29,653.83 L358.07,654.74 L358.86,656.01 L359.65,657.73 L360.44,659.99 L361.23,662.83 L362.01,666.20 L362.80,669.93 L363.59,673.78 L364.38,677.44 L365.16,680.70 L365.95,683.40 L366.74,685.53 L367.52,687.13 L368.31,688.31 L369.10,689.14 L369.89,689.73 L370.67,690.13 L371.46,690.41 L372.25,690.60 L373.04,690.73 L373.82,690.82 L374.61,690.88 L375.40,690.92 L376.19,690.94 L376.98,690.96 L377.76,690.97 L378.55,690.98 L379.34,690.99 L380.12,690.99 L380.91,690.99 L381.70,691.00 L382.49,691.00 L383.27,691.00 L384.06,691.00 L384.85,691.00 L385.64,691.00 L386.42,691.00 L387.21,691.00 L388.00,691.00 L388.79,691.00 L389.57,691.00 L390.36,691.00 L391.15,691.00 L391.94,691.00 L392.73,691.00 L393.51,691.00 L394.30,691.00 L395.09,691.00 L395.88,691.00 L396.66,691.00 L397.45,691.00 L398.24,691.00 L399.02,691.00 L399.81,691.00 L400.60,691.00 L401.39,691.00 L402.17,691.00 L402.96,691.00 L403.75,691.00 L404.54,691.00 L405.32,691.00 L406.11,691.00 L406.90,691.00 L407.69,691.00 L408.48,691.00 L409.26,691.00 L410.05,691.00 L410.84,691.00 L411.62,691.00 L412.41,691.00 L413.20,691.00" fill="none" stroke="#000" stroke-width="1.5" stroke-linejoin="round" opacity="1"/>
<rect x="390.35" y="692.75" width="2.5" height="2.5" fill="#000"/>
<rect x="390.35" y="704.55" width="2.5" height="2.5" fill="#000"/>
<rect x="402.95" y="680.25" width="2.5" height="2.5" fill="#000"/>
<rect x="402.95" y="696.75" width="2.5" height="2.5" fill="#000"/>
<rect x="411.05" y="680.25" width="2.5" height="2.5" fill="#000"/>
<rect x="411.05" y="686.55" width="2.5" height="2.5" fill="#000"/>
<rect x="411.05" y="689.35" width="2.5" height="2.5" fill="#000"/>
<rect x="363.35" y="698.25" width="2.5" height="2.5" fill="#000"/>
<rect x="363.95" y="706.25" width="2.5" height="2.5" fill="#000"/>
<rect x="390.35" y="717.45" width="2.5" height="2.5" fill="#000"/>
<rect x="402.95" y="717.45" width="2.5" height="2.5" fill="#000"/>
<rect x="411.05" y="717.45" width="2.5" height="2.5" fill="#000"/>
<rect x="363.35" y="685.75" width="2.5" height="2.5" fill="#000"/>
<path d="M287.20,644.20 L413.20,644.20" fill="none" stroke="#ef0a0a" stroke-width="1.7" stroke-dasharray="4.2 2.2" stroke-linejoin="round" opacity="1"/>
<path d="M287.20,650.60 L412.50,650.60" fill="none" stroke="#ef0a0a" stroke-width="1.7" stroke-dasharray="4.2 2.2" stroke-linejoin="round" opacity="1"/>
<path d="M287.20,651.90 L365.50,651.90" fill="none" stroke="#ef0a0a" stroke-width="2.6" stroke-dasharray="4.2 2.2" stroke-linejoin="round" opacity="1"/>
<path d="M365.9,637.5 Q366.2,630.2 371,630.2 L412.6,630.2" fill="none" stroke="#ef0a0a" stroke-width="1.6" stroke-dasharray="4.2 2.2"/>
<path d="M367.50,644.60 L372.00,643.60 L378.00,644.20 L384.00,643.40 L391.50,644.30 L398.00,644.60 L404.00,645.50 L408.00,649.80 L412.50,655.50" fill="none" stroke="#ef0a0a" stroke-width="1.3" stroke-linejoin="round" opacity="1"/>
<path d="M401.00,647.50 L404.50,652.50 L407.00,655.00 L412.50,657.50" fill="none" stroke="#ef0a0a" stroke-width="1.3" stroke-linejoin="round" opacity="1"/>
<path d="M365.70,634.20 V655.00 M364.40,634.20 H367.00 M364.40,655.00 H367.00" stroke="#ef0a0a" stroke-width="1.1" fill="none"/>
<path d="M391.30,615.40 V625.50 M389.90,615.40 H392.70 M389.90,625.50 H392.70" stroke="#ef0a0a" stroke-width="1.0" fill="none"/>
<circle cx="391.30" cy="620.20" r="1.3" fill="#ef0a0a"/>
<path d="M404.30,627.10 V658.00 M402.90,627.10 H405.70 M402.90,658.00 H405.70" stroke="#ef0a0a" stroke-width="1.0" fill="none"/>
<path d="M412.20,633.00 V641.30 M410.80,633.00 H413.60 M410.80,641.30 H413.60" stroke="#ef0a0a" stroke-width="1.0" fill="none"/>
<rect x="364.40" y="650.20" width="2.6" height="2.6" fill="#ef0a0a"/>
<rect x="364.40" y="643.20" width="2.6" height="2.6" fill="#ef0a0a"/>
<rect x="390.20" y="643.00" width="2.6" height="2.6" fill="#ef0a0a"/>
<rect x="390.50" y="646.70" width="2.6" height="2.6" fill="#ef0a0a"/>
<rect x="403.00" y="643.20" width="2.6" height="2.6" fill="#ef0a0a"/>
<rect x="403.00" y="648.70" width="2.6" height="2.6" fill="#ef0a0a"/>
<rect x="410.90" y="646.30" width="2.6" height="2.6" fill="#ef0a0a"/>
<rect x="410.90" y="655.20" width="2.6" height="2.6" fill="#ef0a0a"/>
<rect x="410.90" y="650.70" width="2.6" height="2.6" fill="#ef0a0a"/>
<path d="M503.60,644.40 L611.50,644.40 L611.69,646.05 L611.88,646.26 L612.07,646.50 L612.25,646.76 L612.44,647.06 L612.63,647.38 L612.82,647.75 L613.01,648.15 L613.20,648.60 L613.39,649.09 L613.58,649.63 L613.76,650.23 L613.95,650.87 L614.14,651.57 L614.33,652.33 L614.52,653.15 L614.71,654.02 L614.90,654.94 L615.09,655.92 L615.27,656.95 L615.46,658.02 L615.65,659.13 L615.84,660.26 L616.03,661.42 L616.22,662.59 L616.41,663.77 L616.60,664.94 L616.78,666.10 L616.97,667.23 L617.16,668.33 L617.35,669.40 L617.54,670.42 L617.73,671.39 L617.92,672.31 L618.11,673.17 L618.29,673.98 L618.48,674.73 L618.67,675.42 L618.86,676.06 L619.05,676.64 L619.24,677.18 L619.43,677.66 L619.62,678.11 L619.81,678.50 L619.99,678.86 L620.18,679.19 L620.37,679.48 L620.56,679.74 L620.75,679.97 L620.94,680.17 L621.13,680.36 L621.32,680.52 L621.50,680.67 L621.69,680.80 L621.88,680.92 L622.07,681.02 L622.26,681.11 L622.45,681.19 L622.64,681.26 L622.83,681.32 L623.01,681.38 L623.20,681.43 L623.39,681.47 L623.58,681.51 L623.77,681.54 L623.96,681.57 L624.15,681.60 L624.34,681.62 L624.52,681.65 L624.71,681.66 L624.90,681.68 L625.09,681.69 L625.28,681.71 L625.47,681.72 L625.66,681.73 L625.85,681.74 L626.03,681.74 L626.22,681.75 L626.41,681.76 L626.60,681.76" fill="none" stroke="#000" stroke-width="1.5" stroke-linejoin="round" opacity="1"/>
<path d="M503.60,648.40 L613.00,648.40" fill="none" stroke="#000" stroke-width="1.5" stroke-linejoin="round" opacity="1"/>
<path d="M560.00,648.40 L560.83,648.44 L561.66,648.44 L562.50,648.45 L563.33,648.45 L564.16,648.46 L565.00,648.47 L565.83,648.48 L566.66,648.49 L567.49,648.50 L568.33,648.52 L569.16,648.53 L569.99,648.55 L570.82,648.57 L571.65,648.60 L572.49,648.62 L573.32,648.66 L574.15,648.69 L574.99,648.73 L575.82,648.78 L576.65,648.83 L577.48,648.89 L578.32,648.96 L579.15,649.04 L579.98,649.13 L580.81,649.23 L581.64,649.35 L582.48,649.48 L583.31,649.62 L584.14,649.79 L584.98,649.98 L585.81,650.20 L586.64,650.44 L587.47,650.71 L588.31,651.02 L589.14,651.37 L589.97,651.76 L590.80,652.19 L591.63,652.68 L592.47,653.22 L593.30,653.82 L594.13,654.48 L594.97,655.22 L595.80,656.02 L596.63,656.90 L597.46,657.85 L598.30,658.88 L599.13,659.99 L599.96,661.18 L600.79,662.43 L601.62,663.75 L602.46,665.13 L603.29,666.57 L604.12,668.04 L604.96,669.54 L605.79,671.06 L606.62,672.58 L607.45,674.10 L608.28,675.58 L609.12,677.04 L609.95,678.45 L610.78,679.80 L611.62,681.09 L612.45,682.31 L613.28,683.46 L614.11,684.53 L614.95,685.52 L615.78,686.44 L616.61,687.28 L617.44,688.05 L618.27,688.75 L619.11,689.38 L619.94,689.95 L620.77,690.47 L621.61,690.93 L622.44,691.34 L623.27,691.71 L624.10,692.03 L624.94,692.33 L625.77,692.58 L626.60,692.81" fill="none" stroke="#000" stroke-width="1.4" stroke-linejoin="round" opacity="1"/>
<path d="M503.60,651.90 C506.95,652.12 516.80,652.63 523.70,653.20 C530.60,653.77 538.12,654.45 545.00,655.30 C551.88,656.15 559.30,657.22 565.00,658.30 C570.70,659.38 575.13,660.48 579.20,661.80 C583.27,663.12 586.58,664.58 589.40,666.20 C592.22,667.82 593.53,668.95 596.10,671.50 C598.67,674.05 601.28,677.95 604.80,681.50 C608.32,685.05 613.57,689.58 617.20,692.80 C620.83,696.02 625.03,699.47 626.60,700.80" fill="none" stroke="#000" stroke-width="1.4"/>
<path d="M503.60,652.20 C508.00,652.47 523.10,653.20 530.00,653.80 C536.90,654.40 539.17,654.38 545.00,655.80 C550.83,657.22 559.30,660.63 565.00,662.30 C570.70,663.97 575.13,664.48 579.20,665.80 C583.27,667.12 586.58,668.63 589.40,670.20 C592.22,671.77 593.53,672.93 596.10,675.20 C598.67,677.47 601.28,680.60 604.80,683.80 C608.32,687.00 613.57,690.72 617.20,694.40 C620.83,698.08 625.03,703.98 626.60,705.90" fill="none" stroke="#000" stroke-width="1.4"/>
<rect x="563.90" y="661.30" width="2.4" height="2.4" fill="#000"/>
<rect x="563.90" y="655.30" width="2.4" height="2.4" fill="#000"/>
<rect x="594.90" y="671.30" width="2.4" height="2.4" fill="#000"/>
<rect x="594.90" y="675.30" width="2.4" height="2.4" fill="#000"/>
<rect x="594.60" y="655.20" width="2.4" height="2.4" fill="#000"/>
<rect x="616.00" y="680.30" width="2.4" height="2.4" fill="#000"/>
<rect x="616.00" y="682.90" width="2.4" height="2.4" fill="#000"/>
<rect x="616.00" y="692.30" width="2.4" height="2.4" fill="#000"/>
<rect x="625.40" y="680.60" width="2.4" height="2.4" fill="#000"/>
<rect x="625.40" y="690.60" width="2.4" height="2.4" fill="#000"/>
<rect x="625.40" y="699.60" width="2.4" height="2.4" fill="#000"/>
<rect x="625.40" y="704.70" width="2.4" height="2.4" fill="#000"/>
<rect x="616.40" y="670.10" width="2.4" height="2.4" fill="#000"/>
<rect x="615.10" y="662.40" width="2.4" height="2.4" fill="#000"/>
<path d="M626.60,699.00 V708.50 M625.30,699.00 H627.90 M625.30,708.50 H627.90" stroke="#000" stroke-width="1.0" fill="none"/>
<path d="M617.20,689.50 V697.50 M616.00,689.50 H618.40 M616.00,697.50 H618.40" stroke="#000" stroke-width="1.0" fill="none"/>
<path d="M503.60,644.40 L612.50,644.40 L616.00,647.00 L618.00,652.10 L622.70,657.20" fill="none" stroke="#ef0a0a" stroke-width="2.5" stroke-dasharray="4.4 1.6" stroke-linejoin="round" opacity="1"/>
<path d="M503.60,651.80 L565.00,651.80 L600.00,651.40 L608.60,652.10 L622.70,657.90" fill="none" stroke="#ef0a0a" stroke-width="2.4" stroke-dasharray="4.4 1.6" stroke-linejoin="round" opacity="1"/>
<path d="M565.00,637.00 L624.20,637.00" fill="none" stroke="#ef0a0a" stroke-width="1.6" stroke-dasharray="4.2 2.2" stroke-linejoin="round" opacity="1"/>
<path d="M617.20,648.50 L626.60,648.50" fill="none" stroke="#ef0a0a" stroke-width="1.3" stroke-linejoin="round" opacity="1"/>
<path d="M565.10,632.30 V652.00 M563.70,632.30 H566.50 M563.70,652.00 H566.50" stroke="#ef0a0a" stroke-width="1.2" fill="none"/>
<path d="M596.10,624.00 V652.00 M594.70,624.00 H597.50 M594.70,652.00 H597.50" stroke="#ef0a0a" stroke-width="1.2" fill="none"/>
<path d="M617.20,634.00 V656.00 M615.80,634.00 H618.60 M615.80,656.00 H618.60" stroke="#ef0a0a" stroke-width="1.2" fill="none"/>
<path d="M626.60,630.10 V662.40 M625.20,630.10 H628.00 M625.20,662.40 H628.00" stroke="#ef0a0a" stroke-width="1.2" fill="none"/>
<rect x="563.80" y="642.70" width="2.6" height="2.6" fill="#ef0a0a"/>
<rect x="563.80" y="650.20" width="2.6" height="2.6" fill="#ef0a0a"/>
<rect x="563.80" y="636.20" width="2.6" height="2.6" fill="#ef0a0a"/>
<rect x="594.80" y="643.20" width="2.6" height="2.6" fill="#ef0a0a"/>
<rect x="594.80" y="649.70" width="2.6" height="2.6" fill="#ef0a0a"/>
<rect x="594.80" y="635.20" width="2.6" height="2.6" fill="#ef0a0a"/>
<rect x="615.90" y="643.20" width="2.6" height="2.6" fill="#ef0a0a"/>
<rect x="615.90" y="649.70" width="2.6" height="2.6" fill="#ef0a0a"/>
<rect x="615.90" y="653.70" width="2.6" height="2.6" fill="#ef0a0a"/>
<rect x="625.30" y="647.20" width="2.6" height="2.6" fill="#ef0a0a"/>
<rect x="625.30" y="655.20" width="2.6" height="2.6" fill="#ef0a0a"/>
<rect x="625.30" y="650.70" width="2.6" height="2.6" fill="#ef0a0a"/>
<rect x="669.80" y="593.2" width="7.2" height="6.1" rx="1" fill="#ef0a0a"/>
<path d="M673.4,609.2 L676.6,615.6 L670.1999999999999,615.6 Z" fill="#ef0a0a"/>
<path d="M673.4,632 L676.8,625.5 L670.0,625.5 Z" fill="#ef0a0a"/>
<path d="M673.4,641.8 L676.8,645.1 L673.4,648.4 L670.0,645.1 Z" fill="#ef0a0a"/>
<circle cx="673.40" cy="660.30" r="3.0" fill="#ef0a0a"/>
<circle cx="673.40" cy="685.00" r="2.7" fill="#000"/>
<rect x="670.30" y="698.40" width="5.8" height="5.8" fill="#000"/>
<path d="M673.1,714.4 L676.3,717.4 L673.1,720.4 L669.9,717.4 Z" fill="#000"/>
<circle cx="673.30" cy="733.70" r="3.1" fill="#000"/>
<text x="686.30" y="603.90" font-size="14.1" text-anchor="start" fill="#1e1e1e" >A375</text>
<text x="686.30" y="620.40" font-size="14.1" text-anchor="start" fill="#1e1e1e" >KADA</text>
<text x="686.30" y="637.30" font-size="14.1" text-anchor="start" fill="#1e1e1e" >MDAMB-231</text>
<text x="686.30" y="651.80" font-size="14.1" text-anchor="start" fill="#1e1e1e" >SJSA</text>
<text x="686.30" y="666.80" font-size="14.1" text-anchor="start" fill="#1e1e1e" >H1299</text>
<text x="686.30" y="691.30" font-size="14.1" text-anchor="start" fill="#1e1e1e" >MCF7 (TMX<tspan font-size="10.5" dx="0.5" dy="-5.5">R</tspan><tspan dx="0.5" dy="5.5">)</tspan></text>
<text x="686.30" y="707.60" font-size="14.1" text-anchor="start" fill="#1e1e1e" >HCT116</text>
<text x="686.30" y="723.90" font-size="14.1" text-anchor="start" fill="#1e1e1e" >GP5D</text>
<text x="686.30" y="739.70" font-size="14.1" text-anchor="start" fill="#1e1e1e" >A431</text>
</svg></body></html>
